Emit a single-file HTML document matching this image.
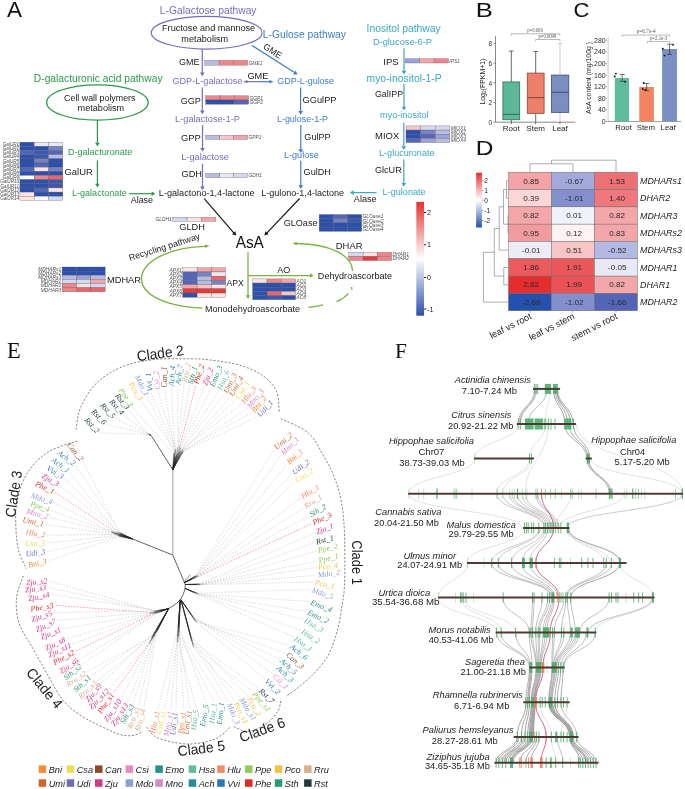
<!DOCTYPE html>
<html><head><meta charset="utf-8"><style>
html,body{margin:0;padding:0;background:#fff;}
svg{display:block;will-change:transform;}

</style></head><body>
<svg width="685" height="789" viewBox="0 0 685 789">
<rect width="685" height="789" fill="#fff"/>
<text x="7.00" y="16.60" font-family="Liberation Sans" font-size="22.5" fill="#111" text-anchor="start">A</text>
<text x="159.85" y="13.50" font-family="Liberation Sans" font-size="10.2" fill="#7a6bbd" textLength="96.67" lengthAdjust="spacingAndGlyphs">L-Galactose pathway</text>
<ellipse cx="206.7" cy="32.7" rx="55.4" ry="16.4" fill="none" stroke="#7a6bbd" stroke-width="1.2"/>
<text x="162.05" y="31.20" font-family="Liberation Sans" font-size="8.9" fill="#1a1a1a" textLength="93.15" lengthAdjust="spacingAndGlyphs">Fructose and mannose</text>
<text x="181.38" y="41.70" font-family="Liberation Sans" font-size="8.9" fill="#1a1a1a" textLength="46.82" lengthAdjust="spacingAndGlyphs">metabolism</text>
<line x1="202.30" y1="49.00" x2="202.30" y2="73.26" stroke="#7a6bbd" stroke-width="1.2"/>
<polygon points="202.30,76.30 200.00,72.50 204.60,72.50" fill="#7a6bbd"/>
<text x="178.95" y="65.20" font-family="Liberation Sans" font-size="8.9" fill="#1a1a1a" textLength="20.43" lengthAdjust="spacingAndGlyphs">GME</text>
<rect x="204.80" y="60.40" width="14.30" height="4.80" fill="#b6bce2" stroke="#555" stroke-width="0.3"/>
<rect x="219.10" y="60.40" width="14.30" height="4.80" fill="#ef8589" stroke="#555" stroke-width="0.3"/>
<rect x="233.40" y="60.40" width="14.30" height="4.80" fill="#ef8589" stroke="#555" stroke-width="0.3"/>
<text x="248.50" y="64.56" font-family="Liberation Sans" font-size="4.9" font-style="italic" fill="#505050" text-anchor="start">GME1</text>
<text x="172.44" y="84.10" font-family="Liberation Sans" font-size="8.9" fill="#7a6bbd" textLength="69.94" lengthAdjust="spacingAndGlyphs">GDP-L-galactose</text>
<line x1="202.30" y1="87.50" x2="202.30" y2="111.26" stroke="#7a6bbd" stroke-width="1.2"/>
<polygon points="202.30,114.30 200.00,110.50 204.60,110.50" fill="#7a6bbd"/>
<text x="180.75" y="103.70" font-family="Liberation Sans" font-size="8.9" fill="#1a1a1a" textLength="20.13" lengthAdjust="spacingAndGlyphs">GGP</text>
<rect x="205.70" y="95.80" width="14.30" height="4.20" fill="#ef8589" stroke="#555" stroke-width="0.3"/>
<rect x="220.00" y="95.80" width="14.30" height="4.20" fill="#ef8589" stroke="#555" stroke-width="0.3"/>
<rect x="234.30" y="95.80" width="14.30" height="4.20" fill="#ef8589" stroke="#555" stroke-width="0.3"/>
<rect x="205.70" y="100.00" width="14.30" height="4.20" fill="#2b50ad" stroke="#555" stroke-width="0.3"/>
<rect x="220.00" y="100.00" width="14.30" height="4.20" fill="#2b50ad" stroke="#555" stroke-width="0.3"/>
<rect x="234.30" y="100.00" width="14.30" height="4.20" fill="#5566b8" stroke="#555" stroke-width="0.3"/>
<text x="249.40" y="99.66" font-family="Liberation Sans" font-size="4.9" font-style="italic" fill="#505050" text-anchor="start">GGP1</text>
<text x="249.40" y="103.86" font-family="Liberation Sans" font-size="4.9" font-style="italic" fill="#505050" text-anchor="start">GGP2</text>
<text x="175.14" y="121.70" font-family="Liberation Sans" font-size="8.9" fill="#7a6bbd" textLength="64.83" lengthAdjust="spacingAndGlyphs">L-galactose-1-P</text>
<line x1="202.50" y1="125.20" x2="202.50" y2="148.76" stroke="#7a6bbd" stroke-width="1.2"/>
<polygon points="202.50,151.80 200.20,148.00 204.80,148.00" fill="#7a6bbd"/>
<text x="181.03" y="141.30" font-family="Liberation Sans" font-size="8.9" fill="#1a1a1a" textLength="19.86" lengthAdjust="spacingAndGlyphs">GPP</text>
<rect x="205.70" y="135.20" width="14.00" height="4.20" fill="#b6bce2" stroke="#555" stroke-width="0.3"/>
<rect x="219.70" y="135.20" width="14.00" height="4.20" fill="#f8c5c7" stroke="#555" stroke-width="0.3"/>
<rect x="233.70" y="135.20" width="14.00" height="4.20" fill="#f4a5a8" stroke="#555" stroke-width="0.3"/>
<text x="248.50" y="139.06" font-family="Liberation Sans" font-size="4.9" font-style="italic" fill="#505050" text-anchor="start">GPP1</text>
<text x="181.24" y="159.70" font-family="Liberation Sans" font-size="8.9" fill="#7a6bbd" textLength="47.65" lengthAdjust="spacingAndGlyphs">L-galactose</text>
<line x1="202.50" y1="163.70" x2="202.50" y2="187.26" stroke="#7a6bbd" stroke-width="1.2"/>
<polygon points="202.50,190.30 200.20,186.50 204.80,186.50" fill="#7a6bbd"/>
<text x="181.54" y="176.70" font-family="Liberation Sans" font-size="8.9" fill="#1a1a1a" textLength="20.52" lengthAdjust="spacingAndGlyphs">GDH</text>
<rect x="205.70" y="173.40" width="14.00" height="4.20" fill="#b6bce2" stroke="#555" stroke-width="0.3"/>
<rect x="219.70" y="173.40" width="14.00" height="4.20" fill="#e8e9f5" stroke="#555" stroke-width="0.3"/>
<rect x="233.70" y="173.40" width="14.00" height="4.20" fill="#d5d8ef" stroke="#555" stroke-width="0.3"/>
<text x="248.50" y="177.26" font-family="Liberation Sans" font-size="4.9" font-style="italic" fill="#505050" text-anchor="start">GDH1</text>
<text x="158.85" y="196.00" font-family="Liberation Sans" font-size="8.9" fill="#1a1a1a" textLength="95.76" lengthAdjust="spacingAndGlyphs">L-galactono-1,4-lactone</text>
<text x="262.85" y="37.50" font-family="Liberation Sans" font-size="10.2" fill="#3c7dc8" textLength="83.18" lengthAdjust="spacingAndGlyphs">L-Gulose pathway</text>
<line x1="251.90" y1="45.40" x2="294.94" y2="72.86" stroke="#3c7dc8" stroke-width="1.2"/>
<polygon points="297.50,74.50 293.06,74.39 295.53,70.52" fill="#3c7dc8"/>
<text transform="translate(271.00,53.40) rotate(33.0)" font-family="Liberation Sans" font-size="8.9" fill="#1a1a1a" text-anchor="middle">GME</text>
<line x1="247.00" y1="81.70" x2="258.50" y2="81.70" stroke="#7a6bbd" stroke-width="1.2"/>
<line x1="258.50" y1="81.70" x2="270.00" y2="81.70" stroke="#3c7dc8" stroke-width="1.2"/>
<polygon points="243.30,81.70 247.50,80.10 247.50,83.30" fill="#7a6bbd"/>
<polygon points="273.60,81.70 269.40,83.30 269.40,80.10" fill="#3c7dc8"/>
<text x="247.44" y="78.70" font-family="Liberation Sans" font-size="8.9" fill="#1a1a1a" textLength="20.95" lengthAdjust="spacingAndGlyphs">GME</text>
<text x="277.25" y="84.00" font-family="Liberation Sans" font-size="8.9" fill="#3c7dc8" textLength="56.84" lengthAdjust="spacingAndGlyphs">GDP-L-gulose</text>
<line x1="300.60" y1="87.40" x2="300.60" y2="111.66" stroke="#3c7dc8" stroke-width="1.2"/>
<polygon points="300.60,114.70 298.30,110.90 302.90,110.90" fill="#3c7dc8"/>
<text x="302.54" y="102.70" font-family="Liberation Sans" font-size="8.9" fill="#1a1a1a" textLength="33.95" lengthAdjust="spacingAndGlyphs">GGulPP</text>
<text x="276.96" y="121.60" font-family="Liberation Sans" font-size="8.9" fill="#3c7dc8" textLength="51.11" lengthAdjust="spacingAndGlyphs">L-gulose-1-P</text>
<line x1="300.80" y1="124.90" x2="300.80" y2="149.96" stroke="#3c7dc8" stroke-width="1.2"/>
<polygon points="300.80,153.00 298.50,149.20 303.10,149.20" fill="#3c7dc8"/>
<text x="304.34" y="140.10" font-family="Liberation Sans" font-size="8.9" fill="#1a1a1a" textLength="26.34" lengthAdjust="spacingAndGlyphs">GulPP</text>
<text x="283.95" y="157.70" font-family="Liberation Sans" font-size="8.9" fill="#3c7dc8" textLength="34.95" lengthAdjust="spacingAndGlyphs">L-gulose</text>
<line x1="300.80" y1="160.80" x2="300.80" y2="185.96" stroke="#3c7dc8" stroke-width="1.2"/>
<polygon points="300.80,189.00 298.50,185.20 303.10,185.20" fill="#3c7dc8"/>
<text x="303.54" y="174.80" font-family="Liberation Sans" font-size="8.9" fill="#1a1a1a" textLength="27.42" lengthAdjust="spacingAndGlyphs">GulDH</text>
<text x="261.15" y="195.50" font-family="Liberation Sans" font-size="8.9" fill="#1a1a1a" textLength="82.94" lengthAdjust="spacingAndGlyphs">L-gulono-1,4-lactone</text>
<text x="366.54" y="32.40" font-family="Liberation Sans" font-size="10.2" fill="#3aa7c2" textLength="74.20" lengthAdjust="spacingAndGlyphs">Inositol pathway</text>
<text x="372.94" y="44.70" font-family="Liberation Sans" font-size="8.9" fill="#3aa7c2" textLength="59.04" lengthAdjust="spacingAndGlyphs">D-glucose-6-P</text>
<line x1="404.00" y1="48.20" x2="404.00" y2="71.56" stroke="#3aa7c2" stroke-width="1.2"/>
<polygon points="404.00,74.60 401.70,70.80 406.30,70.80" fill="#3aa7c2"/>
<text x="383.32" y="64.80" font-family="Liberation Sans" font-size="8.9" fill="#1a1a1a" textLength="15.30" lengthAdjust="spacingAndGlyphs">IPS</text>
<rect x="405.20" y="58.70" width="14.43" height="4.30" fill="#9aa2d6" stroke="#555" stroke-width="0.3"/>
<rect x="419.63" y="58.70" width="14.43" height="4.30" fill="#f4a5a8" stroke="#555" stroke-width="0.3"/>
<rect x="434.07" y="58.70" width="14.43" height="4.30" fill="#ef8589" stroke="#555" stroke-width="0.3"/>
<text x="449.30" y="62.61" font-family="Liberation Sans" font-size="4.9" font-style="italic" fill="#505050" text-anchor="start">IPS1</text>
<text x="366.50" y="81.50" font-family="Liberation Sans" font-size="10.2" fill="#3aa7c2" textLength="75.14" lengthAdjust="spacingAndGlyphs">myo-inositol-1-P</text>
<line x1="404.00" y1="84.10" x2="404.00" y2="107.46" stroke="#3aa7c2" stroke-width="1.2"/>
<polygon points="404.00,110.50 401.70,106.70 406.30,106.70" fill="#3aa7c2"/>
<text x="374.96" y="97.20" font-family="Liberation Sans" font-size="8.9" fill="#1a1a1a" textLength="28.11" lengthAdjust="spacingAndGlyphs">GalIPP</text>
<text x="380.09" y="118.30" font-family="Liberation Sans" font-size="8.9" fill="#3aa7c2" textLength="48.53" lengthAdjust="spacingAndGlyphs">myo-inositol</text>
<line x1="403.80" y1="122.80" x2="403.80" y2="146.96" stroke="#3aa7c2" stroke-width="1.2"/>
<polygon points="403.80,150.00 401.50,146.20 406.10,146.20" fill="#3aa7c2"/>
<text x="375.12" y="138.50" font-family="Liberation Sans" font-size="8.9" fill="#1a1a1a" textLength="24.10" lengthAdjust="spacingAndGlyphs">MIOX</text>
<rect x="406.00" y="125.90" width="14.63" height="4.17" fill="#f8c5c7" stroke="#555" stroke-width="0.3"/>
<rect x="420.63" y="125.90" width="14.63" height="4.17" fill="#d5d8ef" stroke="#555" stroke-width="0.3"/>
<rect x="435.27" y="125.90" width="14.63" height="4.17" fill="#d5d8ef" stroke="#555" stroke-width="0.3"/>
<rect x="406.00" y="130.07" width="14.63" height="4.17" fill="#2b50ad" stroke="#555" stroke-width="0.3"/>
<rect x="420.63" y="130.07" width="14.63" height="4.17" fill="#7682c6" stroke="#555" stroke-width="0.3"/>
<rect x="435.27" y="130.07" width="14.63" height="4.17" fill="#b6bce2" stroke="#555" stroke-width="0.3"/>
<rect x="406.00" y="134.25" width="14.63" height="4.17" fill="#2b50ad" stroke="#555" stroke-width="0.3"/>
<rect x="420.63" y="134.25" width="14.63" height="4.17" fill="#5566b8" stroke="#555" stroke-width="0.3"/>
<rect x="435.27" y="134.25" width="14.63" height="4.17" fill="#9aa2d6" stroke="#555" stroke-width="0.3"/>
<rect x="406.00" y="138.43" width="14.63" height="4.17" fill="#5566b8" stroke="#555" stroke-width="0.3"/>
<rect x="420.63" y="138.43" width="14.63" height="4.17" fill="#9aa2d6" stroke="#555" stroke-width="0.3"/>
<rect x="435.27" y="138.43" width="14.63" height="4.17" fill="#b6bce2" stroke="#555" stroke-width="0.3"/>
<text x="450.70" y="129.75" font-family="Liberation Sans" font-size="4.9" font-style="italic" fill="#505050" text-anchor="start">MIOX1</text>
<text x="450.70" y="133.93" font-family="Liberation Sans" font-size="4.9" font-style="italic" fill="#505050" text-anchor="start">MIOX2</text>
<text x="450.70" y="138.10" font-family="Liberation Sans" font-size="4.9" font-style="italic" fill="#505050" text-anchor="start">MIOX3</text>
<text x="450.70" y="142.28" font-family="Liberation Sans" font-size="4.9" font-style="italic" fill="#505050" text-anchor="start">MIOX4</text>
<text x="379.05" y="156.40" font-family="Liberation Sans" font-size="8.9" fill="#3aa7c2" textLength="55.44" lengthAdjust="spacingAndGlyphs">L-glucuronate</text>
<line x1="403.80" y1="159.60" x2="403.80" y2="183.76" stroke="#3aa7c2" stroke-width="1.2"/>
<polygon points="403.80,186.80 401.50,183.00 406.10,183.00" fill="#3aa7c2"/>
<text x="374.95" y="172.70" font-family="Liberation Sans" font-size="8.9" fill="#1a1a1a" textLength="26.78" lengthAdjust="spacingAndGlyphs">GlcUR</text>
<text x="382.55" y="194.60" font-family="Liberation Sans" font-size="8.9" fill="#3aa7c2" textLength="43.15" lengthAdjust="spacingAndGlyphs">L-gulonate</text>
<line x1="376.50" y1="192.60" x2="352.84" y2="192.60" stroke="#3aa7c2" stroke-width="1.2"/>
<polygon points="349.80,192.60 353.60,190.30 353.60,194.90" fill="#3aa7c2"/>
<text x="353.88" y="201.60" font-family="Liberation Sans" font-size="8.9" fill="#1a1a1a" textLength="22.82" lengthAdjust="spacingAndGlyphs">Alase</text>
<text x="33.85" y="81.80" font-family="Liberation Sans" font-size="10.2" fill="#2a9a48" textLength="128.67" lengthAdjust="spacingAndGlyphs">D-galacturonic acid pathway</text>
<ellipse cx="97.4" cy="102.5" rx="50.8" ry="17.6" fill="none" stroke="#2a9a48" stroke-width="1.2"/>
<text x="64.06" y="100.80" font-family="Liberation Sans" font-size="8.9" fill="#1a1a1a" textLength="71.46" lengthAdjust="spacingAndGlyphs">Cell wall polymers</text>
<text x="77.58" y="111.40" font-family="Liberation Sans" font-size="8.9" fill="#1a1a1a" textLength="46.61" lengthAdjust="spacingAndGlyphs">metabolism</text>
<line x1="97.40" y1="120.30" x2="97.40" y2="143.56" stroke="#2a9a48" stroke-width="1.2"/>
<polygon points="97.40,146.60 95.10,142.80 99.70,142.80" fill="#2a9a48"/>
<text x="67.95" y="154.80" font-family="Liberation Sans" font-size="8.9" fill="#2a9a48" textLength="64.44" lengthAdjust="spacingAndGlyphs">D-galacturonate</text>
<line x1="97.40" y1="160.50" x2="97.40" y2="184.46" stroke="#2a9a48" stroke-width="1.2"/>
<polygon points="97.40,187.50 95.10,183.70 99.70,183.70" fill="#2a9a48"/>
<text x="64.53" y="174.60" font-family="Liberation Sans" font-size="8.9" fill="#1a1a1a" textLength="28.22" lengthAdjust="spacingAndGlyphs">GalUR</text>
<text x="71.95" y="196.00" font-family="Liberation Sans" font-size="8.9" fill="#2a9a48" textLength="54.94" lengthAdjust="spacingAndGlyphs">L-galactonate</text>
<line x1="129.20" y1="193.70" x2="152.36" y2="193.70" stroke="#2a9a48" stroke-width="1.2"/>
<polygon points="155.40,193.70 151.60,196.00 151.60,191.40" fill="#2a9a48"/>
<text x="130.68" y="202.90" font-family="Liberation Sans" font-size="8.9" fill="#1a1a1a" textLength="22.42" lengthAdjust="spacingAndGlyphs">Alase</text>
<rect x="19.90" y="142.20" width="14.30" height="4.16" fill="#2b50ad" stroke="#555" stroke-width="0.3"/>
<rect x="34.20" y="142.20" width="14.30" height="4.16" fill="#e8e9f5" stroke="#555" stroke-width="0.3"/>
<rect x="48.50" y="142.20" width="14.30" height="4.16" fill="#e8e9f5" stroke="#555" stroke-width="0.3"/>
<rect x="19.90" y="146.36" width="14.30" height="4.16" fill="#2b50ad" stroke="#555" stroke-width="0.3"/>
<rect x="34.20" y="146.36" width="14.30" height="4.16" fill="#2b50ad" stroke="#555" stroke-width="0.3"/>
<rect x="48.50" y="146.36" width="14.30" height="4.16" fill="#7682c6" stroke="#555" stroke-width="0.3"/>
<rect x="19.90" y="150.51" width="14.30" height="4.16" fill="#5566b8" stroke="#555" stroke-width="0.3"/>
<rect x="34.20" y="150.51" width="14.30" height="4.16" fill="#3d58b2" stroke="#555" stroke-width="0.3"/>
<rect x="48.50" y="150.51" width="14.30" height="4.16" fill="#5566b8" stroke="#555" stroke-width="0.3"/>
<rect x="19.90" y="154.67" width="14.30" height="4.16" fill="#2b50ad" stroke="#555" stroke-width="0.3"/>
<rect x="34.20" y="154.67" width="14.30" height="4.16" fill="#3d58b2" stroke="#555" stroke-width="0.3"/>
<rect x="48.50" y="154.67" width="14.30" height="4.16" fill="#b6bce2" stroke="#555" stroke-width="0.3"/>
<rect x="19.90" y="158.83" width="14.30" height="4.16" fill="#2b50ad" stroke="#555" stroke-width="0.3"/>
<rect x="34.20" y="158.83" width="14.30" height="4.16" fill="#7682c6" stroke="#555" stroke-width="0.3"/>
<rect x="48.50" y="158.83" width="14.30" height="4.16" fill="#2b50ad" stroke="#555" stroke-width="0.3"/>
<rect x="19.90" y="162.99" width="14.30" height="4.16" fill="#2b50ad" stroke="#555" stroke-width="0.3"/>
<rect x="34.20" y="162.99" width="14.30" height="4.16" fill="#5566b8" stroke="#555" stroke-width="0.3"/>
<rect x="48.50" y="162.99" width="14.30" height="4.16" fill="#2b50ad" stroke="#555" stroke-width="0.3"/>
<rect x="19.90" y="167.14" width="14.30" height="4.16" fill="#5566b8" stroke="#555" stroke-width="0.3"/>
<rect x="34.20" y="167.14" width="14.30" height="4.16" fill="#fde3e3" stroke="#555" stroke-width="0.3"/>
<rect x="48.50" y="167.14" width="14.30" height="4.16" fill="#7682c6" stroke="#555" stroke-width="0.3"/>
<rect x="19.90" y="171.30" width="14.30" height="4.16" fill="#2b50ad" stroke="#555" stroke-width="0.3"/>
<rect x="34.20" y="171.30" width="14.30" height="4.16" fill="#2b50ad" stroke="#555" stroke-width="0.3"/>
<rect x="48.50" y="171.30" width="14.30" height="4.16" fill="#2b50ad" stroke="#555" stroke-width="0.3"/>
<rect x="19.90" y="175.46" width="14.30" height="4.16" fill="#fbfbfd" stroke="#555" stroke-width="0.3"/>
<rect x="34.20" y="175.46" width="14.30" height="4.16" fill="#ef8589" stroke="#555" stroke-width="0.3"/>
<rect x="48.50" y="175.46" width="14.30" height="4.16" fill="#ec6469" stroke="#555" stroke-width="0.3"/>
<rect x="19.90" y="179.61" width="14.30" height="4.16" fill="#2b50ad" stroke="#555" stroke-width="0.3"/>
<rect x="34.20" y="179.61" width="14.30" height="4.16" fill="#2b50ad" stroke="#555" stroke-width="0.3"/>
<rect x="48.50" y="179.61" width="14.30" height="4.16" fill="#3d58b2" stroke="#555" stroke-width="0.3"/>
<rect x="19.90" y="183.77" width="14.30" height="4.16" fill="#2b50ad" stroke="#555" stroke-width="0.3"/>
<rect x="34.20" y="183.77" width="14.30" height="4.16" fill="#2b50ad" stroke="#555" stroke-width="0.3"/>
<rect x="48.50" y="183.77" width="14.30" height="4.16" fill="#3d58b2" stroke="#555" stroke-width="0.3"/>
<rect x="19.90" y="187.93" width="14.30" height="4.16" fill="#2b50ad" stroke="#555" stroke-width="0.3"/>
<rect x="34.20" y="187.93" width="14.30" height="4.16" fill="#5566b8" stroke="#555" stroke-width="0.3"/>
<rect x="48.50" y="187.93" width="14.30" height="4.16" fill="#fde3e3" stroke="#555" stroke-width="0.3"/>
<rect x="19.90" y="192.09" width="14.30" height="4.16" fill="#fde3e3" stroke="#555" stroke-width="0.3"/>
<rect x="34.20" y="192.09" width="14.30" height="4.16" fill="#2b50ad" stroke="#555" stroke-width="0.3"/>
<rect x="48.50" y="192.09" width="14.30" height="4.16" fill="#2b50ad" stroke="#555" stroke-width="0.3"/>
<rect x="19.90" y="196.24" width="14.30" height="4.16" fill="#fde3e3" stroke="#555" stroke-width="0.3"/>
<rect x="34.20" y="196.24" width="14.30" height="4.16" fill="#fbfbfd" stroke="#555" stroke-width="0.3"/>
<rect x="48.50" y="196.24" width="14.30" height="4.16" fill="#d5d8ef" stroke="#555" stroke-width="0.3"/>
<text x="19.10" y="145.93" font-family="Liberation Sans" font-size="4.6" font-style="italic" fill="#505050" text-anchor="end">GalUR1</text>
<text x="19.10" y="150.09" font-family="Liberation Sans" font-size="4.6" font-style="italic" fill="#505050" text-anchor="end">GalUR2</text>
<text x="19.10" y="154.25" font-family="Liberation Sans" font-size="4.6" font-style="italic" fill="#505050" text-anchor="end">GalUR3</text>
<text x="19.10" y="158.41" font-family="Liberation Sans" font-size="4.6" font-style="italic" fill="#505050" text-anchor="end">GalUR4</text>
<text x="19.10" y="162.56" font-family="Liberation Sans" font-size="4.6" font-style="italic" fill="#505050" text-anchor="end">GalUR5</text>
<text x="19.10" y="166.72" font-family="Liberation Sans" font-size="4.6" font-style="italic" fill="#505050" text-anchor="end">GalUR6</text>
<text x="19.10" y="170.88" font-family="Liberation Sans" font-size="4.6" font-style="italic" fill="#505050" text-anchor="end">GalUR7</text>
<text x="19.10" y="175.03" font-family="Liberation Sans" font-size="4.6" font-style="italic" fill="#505050" text-anchor="end">GalUR8</text>
<text x="19.10" y="179.19" font-family="Liberation Sans" font-size="4.6" font-style="italic" fill="#505050" text-anchor="end">GalUR9</text>
<text x="19.10" y="183.35" font-family="Liberation Sans" font-size="4.6" font-style="italic" fill="#505050" text-anchor="end">GalUR10</text>
<text x="19.10" y="187.51" font-family="Liberation Sans" font-size="4.6" font-style="italic" fill="#505050" text-anchor="end">GalUR11</text>
<text x="19.10" y="191.66" font-family="Liberation Sans" font-size="4.6" font-style="italic" fill="#505050" text-anchor="end">GalUR12</text>
<text x="19.10" y="195.82" font-family="Liberation Sans" font-size="4.6" font-style="italic" fill="#505050" text-anchor="end">GalUR13</text>
<text x="19.10" y="199.98" font-family="Liberation Sans" font-size="4.6" font-style="italic" fill="#505050" text-anchor="end">GalUR14</text>
<line x1="204.20" y1="198.60" x2="234.21" y2="233.30" stroke="#1a1a1a" stroke-width="1.2"/>
<polygon points="236.20,235.60 231.97,234.23 235.45,231.22" fill="#1a1a1a"/>
<line x1="299.60" y1="198.50" x2="266.50" y2="233.30" stroke="#1a1a1a" stroke-width="1.2"/>
<polygon points="264.40,235.50 265.35,231.16 268.69,234.33" fill="#1a1a1a"/>
<rect x="172.60" y="217.20" width="14.43" height="4.20" fill="#d5d8ef" stroke="#555" stroke-width="0.3"/>
<rect x="187.03" y="217.20" width="14.43" height="4.20" fill="#fde3e3" stroke="#555" stroke-width="0.3"/>
<rect x="201.47" y="217.20" width="14.43" height="4.20" fill="#f4a5a8" stroke="#555" stroke-width="0.3"/>
<text x="171.80" y="221.06" font-family="Liberation Sans" font-size="4.9" font-style="italic" fill="#505050" text-anchor="end">GLDH1</text>
<text x="179.24" y="229.90" font-family="Liberation Sans" font-size="8.9" fill="#1a1a1a" textLength="25.74" lengthAdjust="spacingAndGlyphs">GLDH</text>
<text x="283.65" y="225.60" font-family="Liberation Sans" font-size="8.9" fill="#1a1a1a" textLength="33.86" lengthAdjust="spacingAndGlyphs">GLOase</text>
<rect x="319.20" y="214.50" width="14.17" height="4.20" fill="#2b50ad" stroke="#555" stroke-width="0.3"/>
<rect x="333.37" y="214.50" width="14.17" height="4.20" fill="#5566b8" stroke="#555" stroke-width="0.3"/>
<rect x="347.53" y="214.50" width="14.17" height="4.20" fill="#2b50ad" stroke="#555" stroke-width="0.3"/>
<rect x="319.20" y="218.70" width="14.17" height="4.20" fill="#2b50ad" stroke="#555" stroke-width="0.3"/>
<rect x="333.37" y="218.70" width="14.17" height="4.20" fill="#7682c6" stroke="#555" stroke-width="0.3"/>
<rect x="347.53" y="218.70" width="14.17" height="4.20" fill="#3d58b2" stroke="#555" stroke-width="0.3"/>
<rect x="319.20" y="222.90" width="14.17" height="4.20" fill="#2b50ad" stroke="#555" stroke-width="0.3"/>
<rect x="333.37" y="222.90" width="14.17" height="4.20" fill="#2b50ad" stroke="#555" stroke-width="0.3"/>
<rect x="347.53" y="222.90" width="14.17" height="4.20" fill="#2b50ad" stroke="#555" stroke-width="0.3"/>
<rect x="319.20" y="227.10" width="14.17" height="4.20" fill="#2b50ad" stroke="#555" stroke-width="0.3"/>
<rect x="333.37" y="227.10" width="14.17" height="4.20" fill="#2b50ad" stroke="#555" stroke-width="0.3"/>
<rect x="347.53" y="227.10" width="14.17" height="4.20" fill="#2b50ad" stroke="#555" stroke-width="0.3"/>
<text x="362.50" y="218.36" font-family="Liberation Sans" font-size="4.9" font-style="italic" fill="#505050" text-anchor="start">GLOase1</text>
<text x="362.50" y="222.56" font-family="Liberation Sans" font-size="4.9" font-style="italic" fill="#505050" text-anchor="start">GLOase2</text>
<text x="362.50" y="226.76" font-family="Liberation Sans" font-size="4.9" font-style="italic" fill="#505050" text-anchor="start">GLOase3</text>
<text x="362.50" y="230.96" font-family="Liberation Sans" font-size="4.9" font-style="italic" fill="#505050" text-anchor="start">GLOase4</text>
<text x="235.66" y="247.70" font-family="Liberation Sans" font-size="16.0" fill="#111" textLength="28.16" lengthAdjust="spacingAndGlyphs">AsA</text>
<line x1="248.00" y1="252.30" x2="248.00" y2="295.96" stroke="#7ab342" stroke-width="1.3"/>
<polygon points="248.00,299.00 245.70,295.20 250.30,295.20" fill="#7ab342"/>
<line x1="248.00" y1="275.60" x2="310.56" y2="275.60" stroke="#7ab342" stroke-width="1.3"/>
<polygon points="313.60,275.60 309.80,277.90 309.80,273.30" fill="#7ab342"/>
<text x="277.28" y="272.70" font-family="Liberation Sans" font-size="8.9" fill="#1a1a1a" textLength="13.05" lengthAdjust="spacingAndGlyphs">AO</text>
<rect x="252.70" y="278.90" width="14.30" height="4.16" fill="#fde3e3" stroke="#555" stroke-width="0.3"/>
<rect x="267.00" y="278.90" width="14.30" height="4.16" fill="#ef8589" stroke="#555" stroke-width="0.3"/>
<rect x="281.30" y="278.90" width="14.30" height="4.16" fill="#f4a5a8" stroke="#555" stroke-width="0.3"/>
<rect x="252.70" y="283.06" width="14.30" height="4.16" fill="#2b50ad" stroke="#555" stroke-width="0.3"/>
<rect x="267.00" y="283.06" width="14.30" height="4.16" fill="#2b50ad" stroke="#555" stroke-width="0.3"/>
<rect x="281.30" y="283.06" width="14.30" height="4.16" fill="#2b50ad" stroke="#555" stroke-width="0.3"/>
<rect x="252.70" y="287.22" width="14.30" height="4.16" fill="#2b50ad" stroke="#555" stroke-width="0.3"/>
<rect x="267.00" y="287.22" width="14.30" height="4.16" fill="#2b50ad" stroke="#555" stroke-width="0.3"/>
<rect x="281.30" y="287.22" width="14.30" height="4.16" fill="#2b50ad" stroke="#555" stroke-width="0.3"/>
<rect x="252.70" y="291.38" width="14.30" height="4.16" fill="#2b50ad" stroke="#555" stroke-width="0.3"/>
<rect x="267.00" y="291.38" width="14.30" height="4.16" fill="#ec6469" stroke="#555" stroke-width="0.3"/>
<rect x="281.30" y="291.38" width="14.30" height="4.16" fill="#f8c5c7" stroke="#555" stroke-width="0.3"/>
<rect x="252.70" y="295.54" width="14.30" height="4.16" fill="#2b50ad" stroke="#555" stroke-width="0.3"/>
<rect x="267.00" y="295.54" width="14.30" height="4.16" fill="#3d58b2" stroke="#555" stroke-width="0.3"/>
<rect x="281.30" y="295.54" width="14.30" height="4.16" fill="#2b50ad" stroke="#555" stroke-width="0.3"/>
<text x="296.40" y="282.74" font-family="Liberation Sans" font-size="4.9" font-style="italic" fill="#505050" text-anchor="start">AO1</text>
<text x="296.40" y="286.90" font-family="Liberation Sans" font-size="4.9" font-style="italic" fill="#505050" text-anchor="start">AO2</text>
<text x="296.40" y="291.06" font-family="Liberation Sans" font-size="4.9" font-style="italic" fill="#505050" text-anchor="start">AO3</text>
<text x="296.40" y="295.22" font-family="Liberation Sans" font-size="4.9" font-style="italic" fill="#505050" text-anchor="start">AO4</text>
<text x="296.40" y="299.38" font-family="Liberation Sans" font-size="4.9" font-style="italic" fill="#505050" text-anchor="start">AO5</text>
<text x="317.85" y="279.30" font-family="Liberation Sans" font-size="8.9" fill="#1a1a1a" textLength="74.25" lengthAdjust="spacingAndGlyphs">Dehydroascorbate</text>
<text x="335.82" y="248.90" font-family="Liberation Sans" font-size="8.9" fill="#1a1a1a" textLength="26.71" lengthAdjust="spacingAndGlyphs">DHAR</text>
<rect x="348.80" y="252.30" width="14.30" height="4.10" fill="#d5d8ef" stroke="#555" stroke-width="0.3"/>
<rect x="363.10" y="252.30" width="14.30" height="4.10" fill="#fde3e3" stroke="#555" stroke-width="0.3"/>
<rect x="377.40" y="252.30" width="14.30" height="4.10" fill="#ef8589" stroke="#555" stroke-width="0.3"/>
<rect x="348.80" y="256.40" width="14.30" height="4.10" fill="#ef8589" stroke="#555" stroke-width="0.3"/>
<rect x="363.10" y="256.40" width="14.30" height="4.10" fill="#e8393d" stroke="#555" stroke-width="0.3"/>
<rect x="377.40" y="256.40" width="14.30" height="4.10" fill="#ef8589" stroke="#555" stroke-width="0.3"/>
<text x="392.50" y="256.11" font-family="Liberation Sans" font-size="4.9" font-style="italic" fill="#505050" text-anchor="start">DHAR1</text>
<text x="392.50" y="260.21" font-family="Liberation Sans" font-size="4.9" font-style="italic" fill="#505050" text-anchor="start">DHAR2</text>
<path d="M352.6,271 C352,255 330,244 297,243.5" fill="none" stroke="#7ab342" stroke-width="1.3"/>
<polygon points="292.40,243.50 296.90,241.80 296.90,245.20" fill="#7ab342"/>
<text x="204.95" y="312.40" font-family="Liberation Sans" font-size="8.9" fill="#1a1a1a" textLength="95.15" lengthAdjust="spacingAndGlyphs">Monodehydroascorbate</text>
<path d="M351.6,287.0 L351.9,289.8" fill="none" stroke="#7ab342" stroke-width="1.3"/>
<path d="M348.6,293.4 Q344,298.5 336.6,301.6" fill="none" stroke="#7ab342" stroke-width="1.3"/>
<path d="M323.0,304.9 Q316,306.6 308.3,307.4" fill="none" stroke="#7ab342" stroke-width="1.3"/>
<path d="M202.5,308.2 C160,306 138,292 142,275 C146,258 175,247 205,246.3" fill="none" stroke="#7ab342" stroke-width="1.3"/>
<polygon points="209.50,246.10 205.06,247.96 204.94,244.56" fill="#7ab342"/>
<text transform="translate(130.00,261.00) rotate(-17.5)" font-family="Liberation Sans" font-size="8.9" fill="#1a1a1a" text-anchor="start">Recycling pathway</text>
<text x="107.04" y="283.00" font-family="Liberation Sans" font-size="8.9" fill="#1a1a1a" textLength="33.89" lengthAdjust="spacingAndGlyphs">MDHAR</text>
<rect x="62.10" y="267.00" width="14.37" height="4.13" fill="#2b50ad" stroke="#555" stroke-width="0.3"/>
<rect x="76.47" y="267.00" width="14.37" height="4.13" fill="#2b50ad" stroke="#555" stroke-width="0.3"/>
<rect x="90.83" y="267.00" width="14.37" height="4.13" fill="#2b50ad" stroke="#555" stroke-width="0.3"/>
<rect x="62.10" y="271.13" width="14.37" height="4.13" fill="#2b50ad" stroke="#555" stroke-width="0.3"/>
<rect x="76.47" y="271.13" width="14.37" height="4.13" fill="#2b50ad" stroke="#555" stroke-width="0.3"/>
<rect x="90.83" y="271.13" width="14.37" height="4.13" fill="#2b50ad" stroke="#555" stroke-width="0.3"/>
<rect x="62.10" y="275.27" width="14.37" height="4.13" fill="#b6bce2" stroke="#555" stroke-width="0.3"/>
<rect x="76.47" y="275.27" width="14.37" height="4.13" fill="#9aa2d6" stroke="#555" stroke-width="0.3"/>
<rect x="90.83" y="275.27" width="14.37" height="4.13" fill="#b6bce2" stroke="#555" stroke-width="0.3"/>
<rect x="62.10" y="279.40" width="14.37" height="4.13" fill="#d5d8ef" stroke="#555" stroke-width="0.3"/>
<rect x="76.47" y="279.40" width="14.37" height="4.13" fill="#d5d8ef" stroke="#555" stroke-width="0.3"/>
<rect x="90.83" y="279.40" width="14.37" height="4.13" fill="#f4a5a8" stroke="#555" stroke-width="0.3"/>
<rect x="62.10" y="283.53" width="14.37" height="4.13" fill="#ef8589" stroke="#555" stroke-width="0.3"/>
<rect x="76.47" y="283.53" width="14.37" height="4.13" fill="#fde3e3" stroke="#555" stroke-width="0.3"/>
<rect x="90.83" y="283.53" width="14.37" height="4.13" fill="#d5d8ef" stroke="#555" stroke-width="0.3"/>
<rect x="62.10" y="287.67" width="14.37" height="4.13" fill="#ef8589" stroke="#555" stroke-width="0.3"/>
<rect x="76.47" y="287.67" width="14.37" height="4.13" fill="#ec6469" stroke="#555" stroke-width="0.3"/>
<rect x="90.83" y="287.67" width="14.37" height="4.13" fill="#ec6469" stroke="#555" stroke-width="0.3"/>
<text x="61.30" y="270.83" font-family="Liberation Sans" font-size="4.9" font-style="italic" fill="#505050" text-anchor="end">MDHARs1</text>
<text x="61.30" y="274.96" font-family="Liberation Sans" font-size="4.9" font-style="italic" fill="#505050" text-anchor="end">MDHARs2</text>
<text x="61.30" y="279.10" font-family="Liberation Sans" font-size="4.9" font-style="italic" fill="#505050" text-anchor="end">MDHARs3</text>
<text x="61.30" y="283.23" font-family="Liberation Sans" font-size="4.9" font-style="italic" fill="#505050" text-anchor="end">MDHAR1</text>
<text x="61.30" y="287.36" font-family="Liberation Sans" font-size="4.9" font-style="italic" fill="#505050" text-anchor="end">MDHAR2</text>
<text x="61.30" y="291.50" font-family="Liberation Sans" font-size="4.9" font-style="italic" fill="#505050" text-anchor="end">MDHAR3</text>
<rect x="182.80" y="267.70" width="14.30" height="4.23" fill="#fde3e3" stroke="#555" stroke-width="0.3"/>
<rect x="197.10" y="267.70" width="14.30" height="4.23" fill="#f4a5a8" stroke="#555" stroke-width="0.3"/>
<rect x="211.40" y="267.70" width="14.30" height="4.23" fill="#f4a5a8" stroke="#555" stroke-width="0.3"/>
<rect x="182.80" y="271.93" width="14.30" height="4.23" fill="#5566b8" stroke="#555" stroke-width="0.3"/>
<rect x="197.10" y="271.93" width="14.30" height="4.23" fill="#7682c6" stroke="#555" stroke-width="0.3"/>
<rect x="211.40" y="271.93" width="14.30" height="4.23" fill="#e8e9f5" stroke="#555" stroke-width="0.3"/>
<rect x="182.80" y="276.16" width="14.30" height="4.23" fill="#5566b8" stroke="#555" stroke-width="0.3"/>
<rect x="197.10" y="276.16" width="14.30" height="4.23" fill="#b6bce2" stroke="#555" stroke-width="0.3"/>
<rect x="211.40" y="276.16" width="14.30" height="4.23" fill="#ec6469" stroke="#555" stroke-width="0.3"/>
<rect x="182.80" y="280.39" width="14.30" height="4.23" fill="#5566b8" stroke="#555" stroke-width="0.3"/>
<rect x="197.10" y="280.39" width="14.30" height="4.23" fill="#b6bce2" stroke="#555" stroke-width="0.3"/>
<rect x="211.40" y="280.39" width="14.30" height="4.23" fill="#7682c6" stroke="#555" stroke-width="0.3"/>
<rect x="182.80" y="284.61" width="14.30" height="4.23" fill="#f4a5a8" stroke="#555" stroke-width="0.3"/>
<rect x="197.10" y="284.61" width="14.30" height="4.23" fill="#f8c5c7" stroke="#555" stroke-width="0.3"/>
<rect x="211.40" y="284.61" width="14.30" height="4.23" fill="#fde3e3" stroke="#555" stroke-width="0.3"/>
<rect x="182.80" y="288.84" width="14.30" height="4.23" fill="#e8393d" stroke="#555" stroke-width="0.3"/>
<rect x="197.10" y="288.84" width="14.30" height="4.23" fill="#e8393d" stroke="#555" stroke-width="0.3"/>
<rect x="211.40" y="288.84" width="14.30" height="4.23" fill="#e8393d" stroke="#555" stroke-width="0.3"/>
<rect x="182.80" y="293.07" width="14.30" height="4.23" fill="#2b50ad" stroke="#555" stroke-width="0.3"/>
<rect x="197.10" y="293.07" width="14.30" height="4.23" fill="#fde3e3" stroke="#555" stroke-width="0.3"/>
<rect x="211.40" y="293.07" width="14.30" height="4.23" fill="#fde3e3" stroke="#555" stroke-width="0.3"/>
<text x="182.00" y="271.58" font-family="Liberation Sans" font-size="4.9" font-style="italic" fill="#505050" text-anchor="end">APX1</text>
<text x="182.00" y="275.81" font-family="Liberation Sans" font-size="4.9" font-style="italic" fill="#505050" text-anchor="end">APX2</text>
<text x="182.00" y="280.04" font-family="Liberation Sans" font-size="4.9" font-style="italic" fill="#505050" text-anchor="end">APX3</text>
<text x="182.00" y="284.26" font-family="Liberation Sans" font-size="4.9" font-style="italic" fill="#505050" text-anchor="end">APX4</text>
<text x="182.00" y="288.49" font-family="Liberation Sans" font-size="4.9" font-style="italic" fill="#505050" text-anchor="end">APX5</text>
<text x="182.00" y="292.72" font-family="Liberation Sans" font-size="4.9" font-style="italic" fill="#505050" text-anchor="end">APX6</text>
<text x="182.00" y="296.95" font-family="Liberation Sans" font-size="4.9" font-style="italic" fill="#505050" text-anchor="end">APX7</text>
<text x="226.38" y="286.00" font-family="Liberation Sans" font-size="8.9" fill="#1a1a1a" textLength="17.30" lengthAdjust="spacingAndGlyphs">APX</text>
<defs><linearGradient id="cbA" x1="0" y1="0" x2="0" y2="1"><stop offset="0" stop-color="#e8302f"/><stop offset="0.5" stop-color="#ffffff"/><stop offset="1" stop-color="#2a50ad"/></linearGradient></defs>
<rect x="416.3" y="201.9" width="7.7" height="113.8" fill="url(#cbA)"/>
<line x1="424.00" y1="212.50" x2="426.20" y2="212.50" stroke="#222" stroke-width="1.0"/>
<text x="427.00" y="215.10" font-family="Liberation Sans" font-size="7.2" fill="#222" text-anchor="start">2</text>
<line x1="424.00" y1="244.80" x2="426.20" y2="244.80" stroke="#222" stroke-width="1.0"/>
<text x="427.00" y="247.40" font-family="Liberation Sans" font-size="7.2" fill="#222" text-anchor="start">1</text>
<line x1="424.00" y1="277.50" x2="426.20" y2="277.50" stroke="#222" stroke-width="1.0"/>
<text x="427.00" y="280.10" font-family="Liberation Sans" font-size="7.2" fill="#222" text-anchor="start">0</text>
<line x1="424.00" y1="309.00" x2="426.20" y2="309.00" stroke="#222" stroke-width="1.0"/>
<text x="427.00" y="311.60" font-family="Liberation Sans" font-size="7.2" fill="#222" text-anchor="start">-1</text>
<text x="475.69" y="17.00" font-family="Liberation Sans" font-size="21.0" fill="#111" textLength="17.03" lengthAdjust="spacingAndGlyphs">B</text>
<line x1="495.50" y1="36.20" x2="495.50" y2="122.20" stroke="#6a6a6a" stroke-width="0.8"/>
<line x1="495.50" y1="122.20" x2="575.40" y2="122.20" stroke="#6a6a6a" stroke-width="0.8"/>
<line x1="493.30" y1="122.20" x2="495.50" y2="122.20" stroke="#555" stroke-width="0.6"/>
<text x="488.55" y="124.80" font-family="Liberation Sans" font-size="7.6" fill="#2a2a2a" textLength="3.49" lengthAdjust="spacingAndGlyphs">0</text>
<line x1="493.30" y1="102.56" x2="495.50" y2="102.56" stroke="#555" stroke-width="0.6"/>
<text x="488.47" y="105.16" font-family="Liberation Sans" font-size="7.6" fill="#2a2a2a" textLength="3.67" lengthAdjust="spacingAndGlyphs">2</text>
<line x1="493.30" y1="82.92" x2="495.50" y2="82.92" stroke="#555" stroke-width="0.6"/>
<text x="488.67" y="85.52" font-family="Liberation Sans" font-size="7.6" fill="#2a2a2a" textLength="3.30" lengthAdjust="spacingAndGlyphs">4</text>
<line x1="493.30" y1="63.28" x2="495.50" y2="63.28" stroke="#555" stroke-width="0.6"/>
<text x="488.48" y="65.88" font-family="Liberation Sans" font-size="7.6" fill="#2a2a2a" textLength="3.61" lengthAdjust="spacingAndGlyphs">6</text>
<line x1="493.30" y1="43.64" x2="495.50" y2="43.64" stroke="#555" stroke-width="0.6"/>
<text x="488.53" y="46.24" font-family="Liberation Sans" font-size="7.6" fill="#2a2a2a" textLength="3.55" lengthAdjust="spacingAndGlyphs">8</text>
<text transform="translate(484.9,104.6) rotate(-90)" font-family="Liberation Sans" font-size="7.6" fill="#222" textLength="46" lengthAdjust="spacingAndGlyphs">Log<tspan font-size="5.2" dy="1.5">2</tspan><tspan dy="-1.5">(FPKM+1)</tspan></text>
<line x1="511.30" y1="51.00" x2="511.30" y2="81.94" stroke="#444" stroke-width="0.8"/>
<line x1="511.30" y1="119.75" x2="511.30" y2="122.20" stroke="#444" stroke-width="0.8"/>
<line x1="509.00" y1="51.00" x2="513.60" y2="51.00" stroke="#444" stroke-width="0.8"/>
<rect x="502.9" y="81.94" width="16.80" height="37.81" fill="#5db89a" stroke="#2f6e58" stroke-width="0.8"/>
<line x1="502.90" y1="114.34" x2="519.70" y2="114.34" stroke="#2f6e58" stroke-width="1.0"/>
<line x1="535.70" y1="51.50" x2="535.70" y2="73.10" stroke="#444" stroke-width="0.8"/>
<line x1="535.70" y1="113.36" x2="535.70" y2="122.20" stroke="#444" stroke-width="0.8"/>
<line x1="533.40" y1="51.50" x2="538.00" y2="51.50" stroke="#444" stroke-width="0.8"/>
<rect x="527.3" y="73.10" width="16.80" height="40.26" fill="#ec806a" stroke="#8a4434" stroke-width="0.8"/>
<line x1="527.30" y1="97.65" x2="544.10" y2="97.65" stroke="#8a4434" stroke-width="1.0"/>
<line x1="560.00" y1="43.64" x2="560.00" y2="75.06" stroke="#bbb" stroke-width="0.8"/>
<line x1="560.00" y1="112.38" x2="560.00" y2="122.20" stroke="#bbb" stroke-width="0.8"/>
<line x1="557.70" y1="43.64" x2="562.30" y2="43.64" stroke="#bbb" stroke-width="0.8"/>
<rect x="551.5" y="75.06" width="17.30" height="37.32" fill="#7a8fbf" stroke="#3d4d70" stroke-width="0.8"/>
<line x1="551.50" y1="92.25" x2="568.80" y2="92.25" stroke="#3d4d70" stroke-width="1.0"/>
<path d="M511.3,35.6 V33.8 H559.9 V35.6" fill="none" stroke="#888" stroke-width="0.6"/>
<text x="527.23" y="31.80" font-family="Liberation Serif" font-size="5.2" fill="#555" textLength="15.61" lengthAdjust="spacingAndGlyphs">p=0.006</text>
<path d="M535.7,41.3 V39.5 H559.9 V41.3" fill="none" stroke="#888" stroke-width="0.6"/>
<text x="538.53" y="38.30" font-family="Liberation Serif" font-size="5.2" fill="#555" textLength="17.65" lengthAdjust="spacingAndGlyphs">p=0.0099</text>
<line x1="511.30" y1="122.20" x2="511.30" y2="124.20" stroke="#333" stroke-width="0.7"/>
<text x="511.30" y="131.00" font-family="Liberation Sans" font-size="8.0" fill="#222" text-anchor="middle">Root</text>
<line x1="535.70" y1="122.20" x2="535.70" y2="124.20" stroke="#333" stroke-width="0.7"/>
<text x="535.70" y="131.00" font-family="Liberation Sans" font-size="8.0" fill="#222" text-anchor="middle">Stem</text>
<line x1="560.00" y1="122.20" x2="560.00" y2="124.20" stroke="#333" stroke-width="0.7"/>
<text x="560.00" y="131.00" font-family="Liberation Sans" font-size="8.0" fill="#222" text-anchor="middle">Leaf</text>
<text x="573.50" y="16.90" font-family="Liberation Sans" font-size="21.0" fill="#111" textLength="15.92" lengthAdjust="spacingAndGlyphs">C</text>
<line x1="608.10" y1="36.80" x2="608.10" y2="121.50" stroke="#c4c4c4" stroke-width="0.9"/>
<line x1="607.30" y1="121.50" x2="681.20" y2="121.50" stroke="#7a7a7a" stroke-width="0.7"/>
<line x1="605.70" y1="121.50" x2="606.90" y2="121.50" stroke="#555" stroke-width="0.6"/>
<text x="605.60" y="124.00" font-family="Liberation Sans" font-size="6.9" fill="#2a2a2a" text-anchor="end">0</text>
<line x1="605.70" y1="109.90" x2="606.90" y2="109.90" stroke="#555" stroke-width="0.6"/>
<text x="605.60" y="112.40" font-family="Liberation Sans" font-size="6.9" fill="#2a2a2a" text-anchor="end">40</text>
<line x1="605.70" y1="98.30" x2="606.90" y2="98.30" stroke="#555" stroke-width="0.6"/>
<text x="605.60" y="100.80" font-family="Liberation Sans" font-size="6.9" fill="#2a2a2a" text-anchor="end">80</text>
<line x1="605.70" y1="86.70" x2="606.90" y2="86.70" stroke="#555" stroke-width="0.6"/>
<text x="605.60" y="89.20" font-family="Liberation Sans" font-size="6.9" fill="#2a2a2a" text-anchor="end">120</text>
<line x1="605.70" y1="75.10" x2="606.90" y2="75.10" stroke="#555" stroke-width="0.6"/>
<text x="605.60" y="77.60" font-family="Liberation Sans" font-size="6.9" fill="#2a2a2a" text-anchor="end">160</text>
<line x1="605.70" y1="63.50" x2="606.90" y2="63.50" stroke="#555" stroke-width="0.6"/>
<text x="605.60" y="66.00" font-family="Liberation Sans" font-size="6.9" fill="#2a2a2a" text-anchor="end">200</text>
<line x1="605.70" y1="51.90" x2="606.90" y2="51.90" stroke="#555" stroke-width="0.6"/>
<text x="605.60" y="54.40" font-family="Liberation Sans" font-size="6.9" fill="#2a2a2a" text-anchor="end">240</text>
<line x1="605.70" y1="40.30" x2="606.90" y2="40.30" stroke="#555" stroke-width="0.6"/>
<text x="605.60" y="42.80" font-family="Liberation Sans" font-size="6.9" fill="#2a2a2a" text-anchor="end">280</text>
<text transform="translate(591.2,114.0) rotate(-90)" font-family="Liberation Sans" font-size="7.4" fill="#222" textLength="72" lengthAdjust="spacingAndGlyphs">AsA content (mg/100g )</text>
<rect x="614.8" y="78.00" width="14.20" height="43.50" fill="#5ebd9d"/>
<line x1="622.20" y1="74.40" x2="622.20" y2="81.30" stroke="#333" stroke-width="0.7"/>
<line x1="619.70" y1="74.40" x2="624.70" y2="74.40" stroke="#333" stroke-width="0.7"/>
<line x1="619.70" y1="81.30" x2="624.70" y2="81.30" stroke="#333" stroke-width="0.7"/>
<circle cx="615.9" cy="73.6" r="0.95" fill="#111"/>
<circle cx="614.8" cy="76.5" r="0.95" fill="#111"/>
<circle cx="625.1" cy="81.8" r="0.95" fill="#111"/>
<rect x="639.3" y="86.99" width="14.60" height="34.51" fill="#f2845f"/>
<line x1="646.70" y1="83.50" x2="646.70" y2="90.70" stroke="#333" stroke-width="0.7"/>
<line x1="644.20" y1="83.50" x2="649.20" y2="83.50" stroke="#333" stroke-width="0.7"/>
<line x1="644.20" y1="90.70" x2="649.20" y2="90.70" stroke="#333" stroke-width="0.7"/>
<circle cx="643.6" cy="83.0" r="0.95" fill="#111"/>
<circle cx="642.7" cy="89.0" r="0.95" fill="#111"/>
<circle cx="645.3" cy="89.9" r="0.95" fill="#111"/>
<rect x="662.1" y="49.00" width="14.90" height="72.50" fill="#7b90c2"/>
<line x1="669.60" y1="44.20" x2="669.60" y2="54.40" stroke="#333" stroke-width="0.7"/>
<line x1="667.10" y1="44.20" x2="672.10" y2="44.20" stroke="#333" stroke-width="0.7"/>
<line x1="667.10" y1="54.40" x2="672.10" y2="54.40" stroke="#333" stroke-width="0.7"/>
<circle cx="662.8" cy="48.8" r="0.95" fill="#111"/>
<circle cx="664.5" cy="55.6" r="0.95" fill="#111"/>
<circle cx="673.0" cy="44.8" r="0.95" fill="#111"/>
<path d="M622.2,36.8 V35.1 H669.6 V36.8" fill="none" stroke="#888" stroke-width="0.6"/>
<text x="636.72" y="32.60" font-family="Liberation Serif" font-size="5.2" fill="#555" textLength="18.96" lengthAdjust="spacingAndGlyphs">p=6.7e-4</text>
<path d="M647.4,43.3 V41.6 H669.6 V43.3" fill="none" stroke="#888" stroke-width="0.6"/>
<text x="649.93" y="40.30" font-family="Liberation Serif" font-size="5.2" fill="#555" textLength="17.27" lengthAdjust="spacingAndGlyphs">p=2.1e-3</text>
<text x="623.60" y="129.80" font-family="Liberation Sans" font-size="7.8" fill="#222" text-anchor="middle">Root</text>
<text x="645.80" y="129.80" font-family="Liberation Sans" font-size="7.8" fill="#222" text-anchor="middle">Stem</text>
<text x="668.20" y="129.80" font-family="Liberation Sans" font-size="7.8" fill="#222" text-anchor="middle">Leaf</text>
<text x="475.88" y="154.60" font-family="Liberation Sans" font-size="21.0" fill="#111" textLength="17.67" lengthAdjust="spacingAndGlyphs">D</text>
<defs><linearGradient id="cbD" x1="0" y1="0" x2="0" y2="1"><stop offset="0" stop-color="#e62e2e"/><stop offset="0.5" stop-color="#ffffff"/><stop offset="1" stop-color="#2450ad"/></linearGradient></defs>
<rect x="476.1" y="172.7" width="5.8" height="54.8" fill="url(#cbD)"/>
<line x1="482.00" y1="180.90" x2="483.60" y2="180.90" stroke="#333" stroke-width="0.5"/>
<text x="484.20" y="183.20" font-family="Liberation Sans" font-size="6.6" fill="#222" text-anchor="start">2</text>
<line x1="482.00" y1="190.70" x2="483.60" y2="190.70" stroke="#333" stroke-width="0.5"/>
<text x="484.20" y="193.00" font-family="Liberation Sans" font-size="6.6" fill="#222" text-anchor="start">1</text>
<line x1="482.00" y1="200.20" x2="483.60" y2="200.20" stroke="#333" stroke-width="0.5"/>
<text x="484.20" y="202.50" font-family="Liberation Sans" font-size="6.6" fill="#222" text-anchor="start">0</text>
<line x1="482.00" y1="210.70" x2="483.60" y2="210.70" stroke="#333" stroke-width="0.5"/>
<text x="484.20" y="213.00" font-family="Liberation Sans" font-size="6.6" fill="#222" text-anchor="start">-1</text>
<line x1="482.00" y1="220.50" x2="483.60" y2="220.50" stroke="#333" stroke-width="0.5"/>
<text x="484.20" y="222.80" font-family="Liberation Sans" font-size="6.6" fill="#222" text-anchor="start">-2</text>
<rect x="508.50" y="172.20" width="43.00" height="17.32" fill="#f4a3a6" stroke="#666" stroke-width="0.45"/>
<text x="531.20" y="183.56" font-family="Liberation Sans" font-size="8.1" fill="#2a2a2a" text-anchor="middle">0.85</text>
<rect x="551.50" y="172.20" width="43.00" height="17.32" fill="#a3aadb" stroke="#666" stroke-width="0.45"/>
<text x="574.20" y="183.56" font-family="Liberation Sans" font-size="8.1" fill="#2a2a2a" text-anchor="middle">-0.67</text>
<rect x="594.50" y="172.20" width="43.00" height="17.32" fill="#ee6f74" stroke="#666" stroke-width="0.45"/>
<text x="617.20" y="183.56" font-family="Liberation Sans" font-size="8.1" fill="#2a2a2a" text-anchor="middle">1.53</text>
<text x="640.03" y="184.16" font-family="Liberation Sans" font-size="9.0" font-style="italic" fill="#1a1a1a" textLength="41.87" lengthAdjust="spacingAndGlyphs">MDHARs1</text>
<rect x="508.50" y="189.52" width="43.00" height="17.32" fill="#fbd6d7" stroke="#666" stroke-width="0.45"/>
<text x="531.20" y="200.88" font-family="Liberation Sans" font-size="8.1" fill="#2a2a2a" text-anchor="middle">0.39</text>
<rect x="551.50" y="189.52" width="43.00" height="17.32" fill="#848fcd" stroke="#666" stroke-width="0.45"/>
<text x="574.20" y="200.88" font-family="Liberation Sans" font-size="8.1" fill="#2a2a2a" text-anchor="middle">-1.01</text>
<rect x="594.50" y="189.52" width="43.00" height="17.32" fill="#ef787c" stroke="#666" stroke-width="0.45"/>
<text x="617.20" y="200.88" font-family="Liberation Sans" font-size="8.1" fill="#2a2a2a" text-anchor="middle">1.40</text>
<text x="640.03" y="201.48" font-family="Liberation Sans" font-size="9.0" font-style="italic" fill="#1a1a1a" textLength="30.05" lengthAdjust="spacingAndGlyphs">DHAR2</text>
<rect x="508.50" y="206.84" width="43.00" height="17.32" fill="#f4a6a9" stroke="#666" stroke-width="0.45"/>
<text x="531.20" y="218.20" font-family="Liberation Sans" font-size="8.1" fill="#2a2a2a" text-anchor="middle">0.82</text>
<rect x="551.50" y="206.84" width="43.00" height="17.32" fill="#f1f1f9" stroke="#666" stroke-width="0.45"/>
<text x="574.20" y="218.20" font-family="Liberation Sans" font-size="8.1" fill="#2a2a2a" text-anchor="middle">0.01</text>
<rect x="594.50" y="206.84" width="43.00" height="17.32" fill="#f4a6a9" stroke="#666" stroke-width="0.45"/>
<text x="617.20" y="218.20" font-family="Liberation Sans" font-size="8.1" fill="#2a2a2a" text-anchor="middle">0.82</text>
<text x="640.03" y="218.80" font-family="Liberation Sans" font-size="9.0" font-style="italic" fill="#1a1a1a" textLength="37.43" lengthAdjust="spacingAndGlyphs">MDHAR3</text>
<rect x="508.50" y="224.16" width="43.00" height="17.32" fill="#f29b9f" stroke="#666" stroke-width="0.45"/>
<text x="531.20" y="235.52" font-family="Liberation Sans" font-size="8.1" fill="#2a2a2a" text-anchor="middle">0.95</text>
<rect x="551.50" y="224.16" width="43.00" height="17.32" fill="#fdf3f2" stroke="#666" stroke-width="0.45"/>
<text x="574.20" y="235.52" font-family="Liberation Sans" font-size="8.1" fill="#2a2a2a" text-anchor="middle">0.12</text>
<rect x="594.50" y="224.16" width="43.00" height="17.32" fill="#f4a6a9" stroke="#666" stroke-width="0.45"/>
<text x="617.20" y="235.52" font-family="Liberation Sans" font-size="8.1" fill="#2a2a2a" text-anchor="middle">0.83</text>
<text x="640.03" y="236.12" font-family="Liberation Sans" font-size="9.0" font-style="italic" fill="#1a1a1a" textLength="41.87" lengthAdjust="spacingAndGlyphs">MDHARs2</text>
<rect x="508.50" y="241.48" width="43.00" height="17.32" fill="#ececf6" stroke="#666" stroke-width="0.45"/>
<text x="531.20" y="252.84" font-family="Liberation Sans" font-size="8.1" fill="#2a2a2a" text-anchor="middle">-0.01</text>
<rect x="551.50" y="241.48" width="43.00" height="17.32" fill="#f8c4c6" stroke="#666" stroke-width="0.45"/>
<text x="574.20" y="252.84" font-family="Liberation Sans" font-size="8.1" fill="#2a2a2a" text-anchor="middle">0.51</text>
<rect x="594.50" y="241.48" width="43.00" height="17.32" fill="#b3b9e2" stroke="#666" stroke-width="0.45"/>
<text x="617.20" y="252.84" font-family="Liberation Sans" font-size="8.1" fill="#2a2a2a" text-anchor="middle">-0.52</text>
<text x="640.03" y="253.44" font-family="Liberation Sans" font-size="9.0" font-style="italic" fill="#1a1a1a" textLength="41.87" lengthAdjust="spacingAndGlyphs">MDHARs3</text>
<rect x="508.50" y="258.80" width="43.00" height="17.32" fill="#ec5a5e" stroke="#666" stroke-width="0.45"/>
<text x="531.20" y="270.16" font-family="Liberation Sans" font-size="8.1" fill="#2a2a2a" text-anchor="middle">1.86</text>
<rect x="551.50" y="258.80" width="43.00" height="17.32" fill="#ec575b" stroke="#666" stroke-width="0.45"/>
<text x="574.20" y="270.16" font-family="Liberation Sans" font-size="8.1" fill="#2a2a2a" text-anchor="middle">1.91</text>
<rect x="594.50" y="258.80" width="43.00" height="17.32" fill="#e8e9f5" stroke="#666" stroke-width="0.45"/>
<text x="617.20" y="270.16" font-family="Liberation Sans" font-size="8.1" fill="#2a2a2a" text-anchor="middle">-0.05</text>
<text x="640.03" y="270.76" font-family="Liberation Sans" font-size="9.0" font-style="italic" fill="#1a1a1a" textLength="37.43" lengthAdjust="spacingAndGlyphs">MDHAR1</text>
<rect x="508.50" y="276.12" width="43.00" height="17.32" fill="#e52d2e" stroke="#666" stroke-width="0.45"/>
<text x="531.20" y="287.48" font-family="Liberation Sans" font-size="8.1" fill="#2a2a2a" text-anchor="middle">2.82</text>
<rect x="551.50" y="276.12" width="43.00" height="17.32" fill="#eb5156" stroke="#666" stroke-width="0.45"/>
<text x="574.20" y="287.48" font-family="Liberation Sans" font-size="8.1" fill="#2a2a2a" text-anchor="middle">1.99</text>
<rect x="594.50" y="276.12" width="43.00" height="17.32" fill="#f4a6a9" stroke="#666" stroke-width="0.45"/>
<text x="617.20" y="287.48" font-family="Liberation Sans" font-size="8.1" fill="#2a2a2a" text-anchor="middle">0.82</text>
<text x="640.03" y="288.08" font-family="Liberation Sans" font-size="9.0" font-style="italic" fill="#1a1a1a" textLength="30.05" lengthAdjust="spacingAndGlyphs">DHAR1</text>
<rect x="508.50" y="293.44" width="43.00" height="17.32" fill="#2451ad" stroke="#666" stroke-width="0.45"/>
<text x="531.20" y="304.80" font-family="Liberation Sans" font-size="8.1" fill="#2a2a2a" text-anchor="middle">-2.68</text>
<rect x="551.50" y="293.44" width="43.00" height="17.32" fill="#838fcd" stroke="#666" stroke-width="0.45"/>
<text x="574.20" y="304.80" font-family="Liberation Sans" font-size="8.1" fill="#2a2a2a" text-anchor="middle">-1.02</text>
<rect x="594.50" y="293.44" width="43.00" height="17.32" fill="#5465b8" stroke="#666" stroke-width="0.45"/>
<text x="617.20" y="304.80" font-family="Liberation Sans" font-size="8.1" fill="#2a2a2a" text-anchor="middle">-1.66</text>
<text x="640.03" y="305.40" font-family="Liberation Sans" font-size="9.0" font-style="italic" fill="#1a1a1a" textLength="37.43" lengthAdjust="spacingAndGlyphs">MDHAR2</text>
<path d="M530.0,172.2 V163.8 H573.0 V172.2" fill="none" stroke="#8a8a8a" stroke-width="0.7"/>
<path d="M551.5,163.8 V160.2 H616.0 V172.2" fill="none" stroke="#8a8a8a" stroke-width="0.7"/>
<path d="M508.5,180.9 H506.5 V198.2 H508.5" fill="none" stroke="#8a8a8a" stroke-width="0.7"/>
<path d="M508.5,215.5 H508.0 V232.8 H508.5" fill="none" stroke="#8a8a8a" stroke-width="0.7"/>
<path d="M506.5,189.5 H503.5 V224.2 H508.0" fill="none" stroke="#8a8a8a" stroke-width="0.7"/>
<path d="M503.5,206.8 H499.2 V250.1 H508.5" fill="none" stroke="#8a8a8a" stroke-width="0.7"/>
<path d="M508.5,267.5 H503.8 V284.8 H508.5" fill="none" stroke="#8a8a8a" stroke-width="0.7"/>
<path d="M499.2,228.5 H494.3 V276.1 H503.8" fill="none" stroke="#8a8a8a" stroke-width="0.7"/>
<path d="M494.3,252.3 H483.4 V302.1 H508.5" fill="none" stroke="#8a8a8a" stroke-width="0.7"/>
<line x1="530.00" y1="310.80" x2="530.00" y2="312.60" stroke="#555" stroke-width="0.5"/>
<text transform="translate(532.20,318.30) rotate(-27.0)" font-family="Liberation Sans" font-size="9.3" fill="#222" text-anchor="end">leaf vs root</text>
<line x1="573.00" y1="310.80" x2="573.00" y2="312.60" stroke="#555" stroke-width="0.5"/>
<text transform="translate(575.20,318.30) rotate(-27.0)" font-family="Liberation Sans" font-size="9.3" fill="#222" text-anchor="end">leaf vs stem</text>
<line x1="616.00" y1="310.80" x2="616.00" y2="312.60" stroke="#555" stroke-width="0.5"/>
<text transform="translate(618.20,318.30) rotate(-27.0)" font-family="Liberation Sans" font-size="9.3" fill="#222" text-anchor="end">stem vs root</text>
<text x="7.0" y="358.3" font-family="Liberation Serif" font-size="22.5" fill="#111">E</text>
<path d="M76.1,429.7 C76.8,426.1 77.1,415.5 80.5,407.8 C83.9,400.1 89.3,390.2 96.3,383.3 C103.3,376.4 113.0,370.6 122.6,366.6 C132.2,362.7 142.9,360.9 154.1,359.6 C165.3,358.3 180.8,358.8 190.0,358.8 C199.2,358.9 201.1,358.9 209.2,359.9 C217.3,360.9 229.6,362.3 238.4,364.8 C247.2,367.3 255.5,370.6 261.8,375.0 C268.1,379.4 273.5,384.8 276.4,391.1 C279.3,397.4 278.8,409.4 279.3,413.0" fill="none" stroke="#555" stroke-width="0.7" stroke-dasharray="2.2,1.6"/>
<path d="M77.4,441.0 C72.5,442.8 56.2,446.8 48.0,452.0 C39.8,457.2 33.2,464.0 28.0,472.0 C22.8,480.0 19.0,490.3 17.0,500.0 C15.0,509.7 15.7,521.3 16.0,530.0 C16.3,538.7 17.3,545.6 19.0,552.0 C20.7,558.4 25.1,565.8 26.3,568.6" fill="none" stroke="#555" stroke-width="0.7" stroke-dasharray="2.2,1.6"/>
<path d="M23.4,575.9 C22.2,579.6 17.2,590.1 16.5,598.0 C15.8,605.9 16.5,615.0 19.0,623.0 C21.5,631.0 26.5,637.0 31.4,645.9 C36.3,654.8 43.3,667.3 48.5,676.3 C53.7,685.3 57.5,693.5 62.7,700.0 C68.0,706.5 72.8,710.2 80.0,715.0 C87.2,719.8 99.0,725.4 106.0,728.7 C113.0,732.1 117.3,734.0 122.1,735.1 C126.9,736.2 131.5,735.8 135.0,735.1 C138.5,734.4 141.7,731.8 143.0,731.1" fill="none" stroke="#555" stroke-width="0.7" stroke-dasharray="2.2,1.6"/>
<path d="M146.3,727.0 C148.2,728.8 151.1,735.2 158.0,738.0 C164.9,740.8 178.2,743.8 187.7,744.0 C197.2,744.2 207.9,741.8 215.0,739.0 C222.1,736.2 227.9,729.0 230.5,727.0" fill="none" stroke="#555" stroke-width="0.7" stroke-dasharray="2.2,1.6"/>
<path d="M233.8,726.6 C236.2,727.4 242.6,731.9 248.0,731.5 C253.4,731.1 261.0,727.4 266.0,724.0 C271.0,720.6 275.5,715.2 278.0,711.0 C280.5,706.8 280.5,701.0 281.0,699.0" fill="none" stroke="#555" stroke-width="0.7" stroke-dasharray="2.2,1.6"/>
<path d="M280.7,418.8 C285.3,421.1 300.9,426.5 308.2,432.8 C315.4,439.1 319.9,449.7 324.2,456.9 C328.5,464.1 331.1,469.0 333.9,476.2 C336.7,483.4 339.4,491.3 341.1,500.3 C342.8,509.3 343.7,516.7 344.3,530.0 C344.9,543.3 345.0,567.6 344.7,580.0 C344.4,592.4 343.6,595.3 342.3,604.1 C341.0,612.9 339.2,624.2 336.7,633.0 C334.2,641.8 331.4,649.9 327.1,657.1 C322.8,664.3 316.4,670.9 311.0,676.4 C305.6,681.9 299.2,686.7 295.0,690.0 C290.8,693.3 287.5,695.0 286.0,696.0" fill="none" stroke="#555" stroke-width="0.7" stroke-dasharray="2.2,1.6"/>
<text transform="translate(137.40,361.30) rotate(-7.5)" font-family="Liberation Sans" font-size="14.5" fill="#222" textLength="47.4" lengthAdjust="spacingAndGlyphs">Clade 2</text>
<text transform="translate(14.90,518.00) rotate(-81.0)" font-family="Liberation Sans" font-size="14.5" fill="#222" textLength="47.0" lengthAdjust="spacingAndGlyphs">Clade 3</text>
<text transform="translate(25.60,673.00) rotate(50.6)" font-family="Liberation Sans" font-size="14.5" fill="#222" textLength="47.5" lengthAdjust="spacingAndGlyphs">Clade 4</text>
<text transform="translate(178.30,756.30) rotate(-7.3)" font-family="Liberation Sans" font-size="14.5" fill="#222" textLength="47.6" lengthAdjust="spacingAndGlyphs">Clade 5</text>
<text transform="translate(241.60,742.60) rotate(-20.0)" font-family="Liberation Sans" font-size="14.5" fill="#222" textLength="47.6" lengthAdjust="spacingAndGlyphs">Clade 6</text>
<text transform="translate(352.20,540.30) rotate(90.0)" font-family="Liberation Sans" font-size="14.5" fill="#222" textLength="44.6" lengthAdjust="spacingAndGlyphs">Clade 1</text>
<line x1="172.80" y1="469.70" x2="172.80" y2="555.10" stroke="#b5b5b5" stroke-width="1.3"/>
<line x1="172.80" y1="555.10" x2="132.50" y2="538.90" stroke="#222" stroke-width="0.7"/>
<line x1="172.80" y1="555.10" x2="185.20" y2="584.30" stroke="#222" stroke-width="0.7"/>
<path d="M185.2,584.3 C185.5,590 183,596 179.6,600.4 C176,604.5 171,607.5 165.5,609.8" fill="none" stroke="#222" stroke-width="0.7"/>
<line x1="172.80" y1="469.70" x2="151.00" y2="435.30" stroke="#222" stroke-width="0.7"/>
<line x1="151.00" y1="435.30" x2="147.76" y2="434.22" stroke="#222" stroke-width="0.4"/>
<line x1="147.76" y1="434.22" x2="98.82" y2="432.88" stroke="#c2c2c2" stroke-width="0.55" stroke-dasharray="1.6,1.4"/>
<line x1="151.00" y1="435.30" x2="147.85" y2="434.04" stroke="#222" stroke-width="0.4"/>
<line x1="147.85" y1="434.04" x2="105.82" y2="424.48" stroke="#c2c2c2" stroke-width="0.55" stroke-dasharray="1.6,1.4"/>
<line x1="151.00" y1="435.30" x2="149.54" y2="434.61" stroke="#222" stroke-width="0.4"/>
<line x1="149.54" y1="434.61" x2="114.60" y2="418.29" stroke="#c2c2c2" stroke-width="0.55" stroke-dasharray="1.6,1.4"/>
<line x1="151.00" y1="435.30" x2="149.53" y2="434.50" stroke="#222" stroke-width="0.4"/>
<line x1="149.53" y1="434.50" x2="123.39" y2="414.91" stroke="#c2c2c2" stroke-width="0.55" stroke-dasharray="1.6,1.4"/>
<line x1="151.00" y1="435.30" x2="148.32" y2="433.60" stroke="#222" stroke-width="0.4"/>
<line x1="148.32" y1="433.60" x2="128.54" y2="409.65" stroke="#c2c2c2" stroke-width="0.55" stroke-dasharray="1.6,1.4"/>
<line x1="172.80" y1="469.70" x2="173.46" y2="453.86" stroke="#222" stroke-width="0.4"/>
<line x1="173.46" y1="453.86" x2="131.94" y2="407.02" stroke="#c2c2c2" stroke-width="0.55" stroke-dasharray="1.6,1.4"/>
<line x1="172.80" y1="469.70" x2="174.50" y2="450.24" stroke="#222" stroke-width="0.4"/>
<line x1="174.50" y1="450.24" x2="141.60" y2="401.04" stroke="#c2c2c2" stroke-width="0.55" stroke-dasharray="1.6,1.4"/>
<line x1="172.80" y1="469.70" x2="174.81" y2="452.38" stroke="#222" stroke-width="0.4"/>
<line x1="174.81" y1="452.38" x2="147.56" y2="396.56" stroke="#c2c2c2" stroke-width="0.55" stroke-dasharray="1.6,1.4"/>
<line x1="172.80" y1="469.70" x2="175.46" y2="449.63" stroke="#222" stroke-width="0.4"/>
<line x1="175.46" y1="449.63" x2="150.75" y2="392.39" stroke="#c2c2c2" stroke-width="0.55" stroke-dasharray="1.6,1.4"/>
<line x1="172.80" y1="469.70" x2="176.04" y2="449.45" stroke="#222" stroke-width="0.4"/>
<line x1="176.04" y1="449.45" x2="157.70" y2="390.60" stroke="#c2c2c2" stroke-width="0.55" stroke-dasharray="1.6,1.4"/>
<line x1="172.80" y1="469.70" x2="175.33" y2="456.15" stroke="#222" stroke-width="0.4"/>
<line x1="175.33" y1="456.15" x2="164.50" y2="388.70" stroke="#c2c2c2" stroke-width="0.55" stroke-dasharray="1.6,1.4"/>
<line x1="172.80" y1="469.70" x2="175.54" y2="456.83" stroke="#222" stroke-width="0.4"/>
<line x1="175.54" y1="456.83" x2="171.42" y2="387.20" stroke="#c2c2c2" stroke-width="0.55" stroke-dasharray="1.6,1.4"/>
<line x1="172.80" y1="469.70" x2="178.12" y2="447.27" stroke="#222" stroke-width="0.4"/>
<line x1="178.12" y1="447.27" x2="177.83" y2="385.69" stroke="#c2c2c2" stroke-width="0.55" stroke-dasharray="1.6,1.4"/>
<line x1="172.80" y1="469.70" x2="176.85" y2="454.11" stroke="#222" stroke-width="0.4"/>
<line x1="176.85" y1="454.11" x2="184.15" y2="383.47" stroke="#c2c2c2" stroke-width="0.55" stroke-dasharray="1.6,1.4"/>
<line x1="172.80" y1="469.70" x2="177.09" y2="454.48" stroke="#222" stroke-width="0.4"/>
<line x1="177.09" y1="454.48" x2="189.87" y2="384.95" stroke="#c2c2c2" stroke-width="0.55" stroke-dasharray="1.6,1.4"/>
<line x1="172.80" y1="469.70" x2="180.04" y2="445.82" stroke="#222" stroke-width="0.4"/>
<line x1="180.04" y1="445.82" x2="195.73" y2="384.94" stroke="#ee5060" stroke-width="0.55" stroke-dasharray="1.6,1.4"/>
<line x1="172.80" y1="469.70" x2="178.73" y2="452.03" stroke="#222" stroke-width="0.4"/>
<line x1="178.73" y1="452.03" x2="204.39" y2="386.43" stroke="#c2c2c2" stroke-width="0.55" stroke-dasharray="1.6,1.4"/>
<line x1="172.80" y1="469.70" x2="180.65" y2="448.04" stroke="#222" stroke-width="0.4"/>
<line x1="180.65" y1="448.04" x2="211.65" y2="387.81" stroke="#c2c2c2" stroke-width="0.55" stroke-dasharray="1.6,1.4"/>
<line x1="172.80" y1="469.70" x2="179.63" y2="452.27" stroke="#222" stroke-width="0.4"/>
<line x1="179.63" y1="452.27" x2="218.91" y2="390.70" stroke="#c2c2c2" stroke-width="0.55" stroke-dasharray="1.6,1.4"/>
<line x1="172.80" y1="469.70" x2="180.75" y2="450.62" stroke="#222" stroke-width="0.4"/>
<line x1="180.75" y1="450.62" x2="224.74" y2="393.66" stroke="#c2c2c2" stroke-width="0.55" stroke-dasharray="1.6,1.4"/>
<line x1="172.80" y1="469.70" x2="178.77" y2="456.15" stroke="#222" stroke-width="0.4"/>
<line x1="178.77" y1="456.15" x2="230.50" y2="396.54" stroke="#c2c2c2" stroke-width="0.55" stroke-dasharray="1.6,1.4"/>
<line x1="172.80" y1="469.70" x2="181.49" y2="451.00" stroke="#222" stroke-width="0.4"/>
<line x1="181.49" y1="451.00" x2="236.23" y2="399.39" stroke="#c2c2c2" stroke-width="0.55" stroke-dasharray="1.6,1.4"/>
<line x1="172.80" y1="469.70" x2="183.15" y2="448.70" stroke="#222" stroke-width="0.4"/>
<line x1="183.15" y1="448.70" x2="242.08" y2="403.76" stroke="#c2c2c2" stroke-width="0.55" stroke-dasharray="1.6,1.4"/>
<line x1="172.80" y1="469.70" x2="181.70" y2="452.60" stroke="#222" stroke-width="0.4"/>
<line x1="181.70" y1="452.60" x2="247.84" y2="408.13" stroke="#c2c2c2" stroke-width="0.55" stroke-dasharray="1.6,1.4"/>
<line x1="172.80" y1="469.70" x2="183.27" y2="450.47" stroke="#222" stroke-width="0.4"/>
<line x1="183.27" y1="450.47" x2="252.23" y2="412.42" stroke="#c2c2c2" stroke-width="0.55" stroke-dasharray="1.6,1.4"/>
<line x1="172.80" y1="469.70" x2="183.25" y2="451.42" stroke="#222" stroke-width="0.4"/>
<line x1="183.25" y1="451.42" x2="258.00" y2="416.79" stroke="#c2c2c2" stroke-width="0.55" stroke-dasharray="1.6,1.4"/>
<line x1="132.50" y1="538.90" x2="119.22" y2="532.30" stroke="#222" stroke-width="0.4"/>
<line x1="119.22" y1="532.30" x2="82.57" y2="460.82" stroke="#c2c2c2" stroke-width="0.55" stroke-dasharray="1.6,1.4"/>
<line x1="132.50" y1="538.90" x2="120.53" y2="533.24" stroke="#222" stroke-width="0.4"/>
<line x1="120.53" y1="533.24" x2="75.46" y2="465.02" stroke="#c2c2c2" stroke-width="0.55" stroke-dasharray="1.6,1.4"/>
<line x1="132.50" y1="538.90" x2="117.20" y2="532.07" stroke="#222" stroke-width="0.4"/>
<line x1="117.20" y1="532.07" x2="69.56" y2="472.32" stroke="#c2c2c2" stroke-width="0.55" stroke-dasharray="1.6,1.4"/>
<line x1="132.50" y1="538.90" x2="119.74" y2="533.50" stroke="#222" stroke-width="0.4"/>
<line x1="119.74" y1="533.50" x2="63.82" y2="478.04" stroke="#c2c2c2" stroke-width="0.55" stroke-dasharray="1.6,1.4"/>
<line x1="132.50" y1="538.90" x2="120.62" y2="534.15" stroke="#222" stroke-width="0.4"/>
<line x1="120.62" y1="534.15" x2="59.44" y2="485.30" stroke="#c2c2c2" stroke-width="0.55" stroke-dasharray="1.6,1.4"/>
<line x1="132.50" y1="538.90" x2="116.76" y2="532.98" stroke="#222" stroke-width="0.4"/>
<line x1="116.76" y1="532.98" x2="55.09" y2="492.51" stroke="#ee5060" stroke-width="0.55" stroke-dasharray="1.6,1.4"/>
<line x1="132.50" y1="538.90" x2="110.77" y2="531.32" stroke="#222" stroke-width="0.4"/>
<line x1="110.77" y1="531.32" x2="53.74" y2="502.67" stroke="#c2c2c2" stroke-width="0.55" stroke-dasharray="1.6,1.4"/>
<line x1="132.50" y1="538.90" x2="111.96" y2="532.21" stroke="#222" stroke-width="0.4"/>
<line x1="111.96" y1="532.21" x2="50.74" y2="510.37" stroke="#c2c2c2" stroke-width="0.55" stroke-dasharray="1.6,1.4"/>
<line x1="132.50" y1="538.90" x2="112.24" y2="532.71" stroke="#222" stroke-width="0.4"/>
<line x1="112.24" y1="532.71" x2="49.36" y2="517.31" stroke="#c2c2c2" stroke-width="0.55" stroke-dasharray="1.6,1.4"/>
<line x1="132.50" y1="538.90" x2="118.40" y2="534.89" stroke="#222" stroke-width="0.4"/>
<line x1="118.40" y1="534.89" x2="44.97" y2="524.45" stroke="#c2c2c2" stroke-width="0.55" stroke-dasharray="1.6,1.4"/>
<line x1="132.50" y1="538.90" x2="114.63" y2="534.33" stroke="#222" stroke-width="0.4"/>
<line x1="114.63" y1="534.33" x2="46.49" y2="535.17" stroke="#c2c2c2" stroke-width="0.55" stroke-dasharray="1.6,1.4"/>
<line x1="132.50" y1="538.90" x2="117.58" y2="535.41" stroke="#222" stroke-width="0.4"/>
<line x1="117.58" y1="535.41" x2="46.50" y2="543.20" stroke="#c2c2c2" stroke-width="0.55" stroke-dasharray="1.6,1.4"/>
<line x1="132.50" y1="538.90" x2="118.73" y2="536.00" stroke="#222" stroke-width="0.4"/>
<line x1="118.73" y1="536.00" x2="46.49" y2="551.87" stroke="#c2c2c2" stroke-width="0.55" stroke-dasharray="1.6,1.4"/>
<line x1="132.50" y1="538.90" x2="119.45" y2="536.46" stroke="#222" stroke-width="0.4"/>
<line x1="119.45" y1="536.46" x2="47.87" y2="561.03" stroke="#c2c2c2" stroke-width="0.55" stroke-dasharray="1.6,1.4"/>
<line x1="184.30" y1="582.00" x2="190.30" y2="574.60" stroke="#222" stroke-width="0.5"/>
<line x1="184.60" y1="582.50" x2="195.22" y2="576.17" stroke="#222" stroke-width="0.4"/>
<line x1="195.22" y1="576.17" x2="274.39" y2="448.89" stroke="#c2c2c2" stroke-width="0.55" stroke-dasharray="1.6,1.4"/>
<line x1="184.60" y1="582.50" x2="196.01" y2="575.88" stroke="#222" stroke-width="0.4"/>
<line x1="196.01" y1="575.88" x2="281.15" y2="454.85" stroke="#c2c2c2" stroke-width="0.55" stroke-dasharray="1.6,1.4"/>
<line x1="184.60" y1="582.50" x2="196.43" y2="575.86" stroke="#222" stroke-width="0.4"/>
<line x1="196.43" y1="575.86" x2="287.11" y2="463.80" stroke="#c2c2c2" stroke-width="0.55" stroke-dasharray="1.6,1.4"/>
<line x1="184.60" y1="582.50" x2="197.43" y2="575.55" stroke="#222" stroke-width="0.4"/>
<line x1="197.43" y1="575.55" x2="292.04" y2="473.72" stroke="#c2c2c2" stroke-width="0.55" stroke-dasharray="1.6,1.4"/>
<line x1="184.60" y1="582.50" x2="196.26" y2="576.35" stroke="#222" stroke-width="0.4"/>
<line x1="196.26" y1="576.35" x2="295.02" y2="481.69" stroke="#c2c2c2" stroke-width="0.55" stroke-dasharray="1.6,1.4"/>
<line x1="184.60" y1="582.50" x2="197.55" y2="576.07" stroke="#222" stroke-width="0.4"/>
<line x1="197.55" y1="576.07" x2="300.98" y2="497.64" stroke="#c2c2c2" stroke-width="0.55" stroke-dasharray="1.6,1.4"/>
<line x1="184.60" y1="582.50" x2="192.00" y2="578.96" stroke="#222" stroke-width="0.4"/>
<line x1="192.00" y1="578.96" x2="303.99" y2="507.65" stroke="#c2c2c2" stroke-width="0.55" stroke-dasharray="1.6,1.4"/>
<line x1="184.60" y1="582.50" x2="194.83" y2="577.80" stroke="#222" stroke-width="0.4"/>
<line x1="194.83" y1="577.80" x2="308.95" y2="515.58" stroke="#c2c2c2" stroke-width="0.55" stroke-dasharray="1.6,1.4"/>
<line x1="184.60" y1="582.50" x2="197.95" y2="576.57" stroke="#222" stroke-width="0.4"/>
<line x1="197.95" y1="576.57" x2="311.90" y2="523.49" stroke="#ee5060" stroke-width="0.55" stroke-dasharray="1.6,1.4"/>
<line x1="185.00" y1="584.50" x2="199.16" y2="584.08" stroke="#222" stroke-width="0.4"/>
<line x1="199.16" y1="584.08" x2="315.19" y2="532.75" stroke="#c2c2c2" stroke-width="0.55" stroke-dasharray="1.6,1.4"/>
<line x1="185.00" y1="584.50" x2="199.91" y2="584.17" stroke="#222" stroke-width="0.4"/>
<line x1="199.91" y1="584.17" x2="315.14" y2="542.39" stroke="#c2c2c2" stroke-width="0.55" stroke-dasharray="1.6,1.4"/>
<line x1="185.00" y1="584.50" x2="202.47" y2="584.25" stroke="#222" stroke-width="0.4"/>
<line x1="202.47" y1="584.25" x2="316.73" y2="550.97" stroke="#c2c2c2" stroke-width="0.55" stroke-dasharray="1.6,1.4"/>
<line x1="185.00" y1="584.50" x2="199.26" y2="584.42" stroke="#222" stroke-width="0.4"/>
<line x1="199.26" y1="584.42" x2="317.64" y2="561.09" stroke="#c2c2c2" stroke-width="0.55" stroke-dasharray="1.6,1.4"/>
<line x1="185.00" y1="584.50" x2="199.55" y2="584.50" stroke="#222" stroke-width="0.4"/>
<line x1="199.55" y1="584.50" x2="316.71" y2="567.63" stroke="#c2c2c2" stroke-width="0.55" stroke-dasharray="1.6,1.4"/>
<line x1="185.00" y1="584.50" x2="200.11" y2="584.61" stroke="#222" stroke-width="0.4"/>
<line x1="200.11" y1="584.61" x2="316.71" y2="575.35" stroke="#c2c2c2" stroke-width="0.55" stroke-dasharray="1.6,1.4"/>
<line x1="185.00" y1="584.50" x2="197.29" y2="584.66" stroke="#222" stroke-width="0.4"/>
<line x1="197.29" y1="584.66" x2="313.83" y2="582.15" stroke="#c2c2c2" stroke-width="0.55" stroke-dasharray="1.6,1.4"/>
<line x1="185.20" y1="588.50" x2="197.21" y2="593.06" stroke="#222" stroke-width="0.4"/>
<line x1="197.21" y1="593.06" x2="310.86" y2="589.63" stroke="#c2c2c2" stroke-width="0.55" stroke-dasharray="1.6,1.4"/>
<line x1="185.20" y1="588.50" x2="198.15" y2="593.67" stroke="#222" stroke-width="0.4"/>
<line x1="198.15" y1="593.67" x2="309.89" y2="601.55" stroke="#c2c2c2" stroke-width="0.55" stroke-dasharray="1.6,1.4"/>
<line x1="185.20" y1="588.50" x2="198.12" y2="593.88" stroke="#222" stroke-width="0.4"/>
<line x1="198.12" y1="593.88" x2="306.91" y2="611.49" stroke="#c2c2c2" stroke-width="0.55" stroke-dasharray="1.6,1.4"/>
<line x1="185.20" y1="588.50" x2="195.17" y2="592.80" stroke="#222" stroke-width="0.4"/>
<line x1="195.17" y1="592.80" x2="303.96" y2="619.40" stroke="#c2c2c2" stroke-width="0.55" stroke-dasharray="1.6,1.4"/>
<line x1="185.20" y1="588.50" x2="194.38" y2="592.64" stroke="#222" stroke-width="0.4"/>
<line x1="194.38" y1="592.64" x2="300.99" y2="630.35" stroke="#c2c2c2" stroke-width="0.55" stroke-dasharray="1.6,1.4"/>
<line x1="185.20" y1="588.50" x2="196.30" y2="593.68" stroke="#222" stroke-width="0.4"/>
<line x1="196.30" y1="593.68" x2="294.03" y2="637.29" stroke="#c2c2c2" stroke-width="0.55" stroke-dasharray="1.6,1.4"/>
<line x1="181.00" y1="599.80" x2="196.45" y2="621.61" stroke="#222" stroke-width="0.4"/>
<line x1="196.45" y1="621.61" x2="290.05" y2="645.26" stroke="#c2c2c2" stroke-width="0.55" stroke-dasharray="1.6,1.4"/>
<line x1="181.00" y1="599.80" x2="196.50" y2="621.96" stroke="#222" stroke-width="0.4"/>
<line x1="196.50" y1="621.96" x2="286.08" y2="653.23" stroke="#c2c2c2" stroke-width="0.55" stroke-dasharray="1.6,1.4"/>
<line x1="181.00" y1="599.80" x2="194.27" y2="618.99" stroke="#222" stroke-width="0.4"/>
<line x1="194.27" y1="618.99" x2="280.11" y2="659.20" stroke="#c2c2c2" stroke-width="0.55" stroke-dasharray="1.6,1.4"/>
<line x1="181.00" y1="599.80" x2="192.78" y2="617.03" stroke="#222" stroke-width="0.4"/>
<line x1="192.78" y1="617.03" x2="277.15" y2="666.15" stroke="#c2c2c2" stroke-width="0.55" stroke-dasharray="1.6,1.4"/>
<line x1="181.00" y1="599.80" x2="191.07" y2="614.72" stroke="#222" stroke-width="0.4"/>
<line x1="191.07" y1="614.72" x2="273.15" y2="674.15" stroke="#c2c2c2" stroke-width="0.55" stroke-dasharray="1.6,1.4"/>
<line x1="181.00" y1="599.80" x2="195.02" y2="620.85" stroke="#222" stroke-width="0.4"/>
<line x1="195.02" y1="620.85" x2="265.15" y2="679.15" stroke="#c2c2c2" stroke-width="0.55" stroke-dasharray="1.6,1.4"/>
<line x1="181.00" y1="599.80" x2="191.49" y2="640.60" stroke="#222" stroke-width="0.4"/>
<line x1="191.49" y1="640.60" x2="228.53" y2="702.30" stroke="#c2c2c2" stroke-width="0.55" stroke-dasharray="1.6,1.4"/>
<line x1="181.00" y1="599.80" x2="190.64" y2="636.89" stroke="#222" stroke-width="0.4"/>
<line x1="190.64" y1="636.89" x2="234.84" y2="701.54" stroke="#c2c2c2" stroke-width="0.55" stroke-dasharray="1.6,1.4"/>
<line x1="181.00" y1="599.80" x2="193.54" y2="647.50" stroke="#222" stroke-width="0.4"/>
<line x1="193.54" y1="647.50" x2="240.36" y2="697.48" stroke="#c2c2c2" stroke-width="0.55" stroke-dasharray="1.6,1.4"/>
<line x1="181.00" y1="599.80" x2="190.42" y2="635.16" stroke="#222" stroke-width="0.4"/>
<line x1="190.42" y1="635.16" x2="248.40" y2="696.66" stroke="#c2c2c2" stroke-width="0.55" stroke-dasharray="1.6,1.4"/>
<line x1="181.00" y1="599.80" x2="193.17" y2="644.98" stroke="#222" stroke-width="0.4"/>
<line x1="193.17" y1="644.98" x2="253.13" y2="691.98" stroke="#c2c2c2" stroke-width="0.55" stroke-dasharray="1.6,1.4"/>
<line x1="181.00" y1="599.80" x2="192.31" y2="641.33" stroke="#222" stroke-width="0.4"/>
<line x1="192.31" y1="641.33" x2="259.45" y2="688.85" stroke="#c2c2c2" stroke-width="0.55" stroke-dasharray="1.6,1.4"/>
<line x1="180.20" y1="600.30" x2="177.97" y2="628.29" stroke="#222" stroke-width="0.4"/>
<line x1="177.97" y1="628.29" x2="157.77" y2="710.03" stroke="#c2c2c2" stroke-width="0.55" stroke-dasharray="1.6,1.4"/>
<line x1="180.20" y1="600.30" x2="177.08" y2="641.50" stroke="#222" stroke-width="0.4"/>
<line x1="177.08" y1="641.50" x2="164.39" y2="710.04" stroke="#c2c2c2" stroke-width="0.55" stroke-dasharray="1.6,1.4"/>
<line x1="180.20" y1="600.30" x2="178.33" y2="626.51" stroke="#222" stroke-width="0.4"/>
<line x1="178.33" y1="626.51" x2="170.91" y2="710.02" stroke="#c2c2c2" stroke-width="0.55" stroke-dasharray="1.6,1.4"/>
<line x1="180.20" y1="600.30" x2="177.70" y2="636.90" stroke="#222" stroke-width="0.4"/>
<line x1="177.70" y1="636.90" x2="175.97" y2="711.41" stroke="#c2c2c2" stroke-width="0.55" stroke-dasharray="1.6,1.4"/>
<line x1="180.20" y1="600.30" x2="178.59" y2="625.78" stroke="#222" stroke-width="0.4"/>
<line x1="178.59" y1="625.78" x2="183.97" y2="710.71" stroke="#c2c2c2" stroke-width="0.55" stroke-dasharray="1.6,1.4"/>
<line x1="180.20" y1="600.30" x2="178.51" y2="628.70" stroke="#222" stroke-width="0.4"/>
<line x1="178.51" y1="628.70" x2="189.77" y2="709.21" stroke="#c2c2c2" stroke-width="0.55" stroke-dasharray="1.6,1.4"/>
<line x1="180.20" y1="600.30" x2="177.89" y2="642.22" stroke="#222" stroke-width="0.4"/>
<line x1="177.89" y1="642.22" x2="196.35" y2="708.51" stroke="#c2c2c2" stroke-width="0.55" stroke-dasharray="1.6,1.4"/>
<line x1="180.20" y1="600.30" x2="178.87" y2="628.04" stroke="#222" stroke-width="0.4"/>
<line x1="178.87" y1="628.04" x2="206.61" y2="703.42" stroke="#c2c2c2" stroke-width="0.55" stroke-dasharray="1.6,1.4"/>
<line x1="180.20" y1="600.30" x2="178.69" y2="635.82" stroke="#222" stroke-width="0.4"/>
<line x1="178.69" y1="635.82" x2="214.67" y2="701.91" stroke="#c2c2c2" stroke-width="0.55" stroke-dasharray="1.6,1.4"/>
<line x1="180.20" y1="600.30" x2="178.97" y2="632.54" stroke="#222" stroke-width="0.4"/>
<line x1="178.97" y1="632.54" x2="221.93" y2="701.21" stroke="#c2c2c2" stroke-width="0.55" stroke-dasharray="1.6,1.4"/>
<line x1="168.50" y1="608.80" x2="154.56" y2="610.88" stroke="#222" stroke-width="0.4"/>
<line x1="154.56" y1="610.88" x2="48.70" y2="580.90" stroke="#c2c2c2" stroke-width="0.55" stroke-dasharray="1.6,1.4"/>
<line x1="168.50" y1="608.80" x2="155.56" y2="610.91" stroke="#222" stroke-width="0.4"/>
<line x1="155.56" y1="610.91" x2="47.39" y2="587.35" stroke="#c2c2c2" stroke-width="0.55" stroke-dasharray="1.6,1.4"/>
<line x1="168.50" y1="608.80" x2="158.14" y2="610.63" stroke="#222" stroke-width="0.4"/>
<line x1="158.14" y1="610.63" x2="50.47" y2="594.25" stroke="#c2c2c2" stroke-width="0.55" stroke-dasharray="1.6,1.4"/>
<line x1="168.50" y1="608.80" x2="150.33" y2="612.44" stroke="#222" stroke-width="0.4"/>
<line x1="150.33" y1="612.44" x2="54.68" y2="605.29" stroke="#ee5060" stroke-width="0.55" stroke-dasharray="1.6,1.4"/>
<line x1="168.50" y1="608.80" x2="159.64" y2="610.72" stroke="#222" stroke-width="0.4"/>
<line x1="159.64" y1="610.72" x2="53.14" y2="612.63" stroke="#c2c2c2" stroke-width="0.55" stroke-dasharray="1.6,1.4"/>
<line x1="168.50" y1="608.80" x2="154.36" y2="612.13" stroke="#222" stroke-width="0.4"/>
<line x1="154.36" y1="612.13" x2="56.69" y2="620.49" stroke="#c2c2c2" stroke-width="0.55" stroke-dasharray="1.6,1.4"/>
<line x1="168.50" y1="608.80" x2="150.22" y2="613.52" stroke="#222" stroke-width="0.4"/>
<line x1="150.22" y1="613.52" x2="61.91" y2="629.05" stroke="#c2c2c2" stroke-width="0.55" stroke-dasharray="1.6,1.4"/>
<line x1="168.50" y1="608.80" x2="158.99" y2="611.51" stroke="#222" stroke-width="0.4"/>
<line x1="158.99" y1="611.51" x2="66.09" y2="638.99" stroke="#c2c2c2" stroke-width="0.55" stroke-dasharray="1.6,1.4"/>
<line x1="168.50" y1="608.80" x2="154.05" y2="613.18" stroke="#222" stroke-width="0.4"/>
<line x1="154.05" y1="613.18" x2="72.09" y2="644.49" stroke="#c2c2c2" stroke-width="0.55" stroke-dasharray="1.6,1.4"/>
<line x1="168.50" y1="608.80" x2="153.48" y2="613.65" stroke="#222" stroke-width="0.4"/>
<line x1="153.48" y1="613.65" x2="75.05" y2="651.42" stroke="#ee5060" stroke-width="0.55" stroke-dasharray="1.6,1.4"/>
<line x1="168.50" y1="608.80" x2="159.57" y2="611.90" stroke="#222" stroke-width="0.4"/>
<line x1="159.57" y1="611.90" x2="78.99" y2="659.33" stroke="#c2c2c2" stroke-width="0.55" stroke-dasharray="1.6,1.4"/>
<line x1="168.50" y1="608.80" x2="156.12" y2="613.30" stroke="#222" stroke-width="0.4"/>
<line x1="156.12" y1="613.30" x2="81.93" y2="664.74" stroke="#c2c2c2" stroke-width="0.55" stroke-dasharray="1.6,1.4"/>
<line x1="168.50" y1="608.80" x2="151.54" y2="637.27" stroke="#222" stroke-width="0.4"/>
<line x1="151.54" y1="637.27" x2="86.99" y2="671.83" stroke="#c2c2c2" stroke-width="0.55" stroke-dasharray="1.6,1.4"/>
<line x1="168.50" y1="608.80" x2="153.35" y2="634.54" stroke="#222" stroke-width="0.4"/>
<line x1="153.35" y1="634.54" x2="90.88" y2="675.68" stroke="#c2c2c2" stroke-width="0.55" stroke-dasharray="1.6,1.4"/>
<line x1="168.50" y1="608.80" x2="151.84" y2="637.63" stroke="#222" stroke-width="0.4"/>
<line x1="151.84" y1="637.63" x2="96.88" y2="681.18" stroke="#c2c2c2" stroke-width="0.55" stroke-dasharray="1.6,1.4"/>
<line x1="168.50" y1="608.80" x2="156.22" y2="630.28" stroke="#222" stroke-width="0.4"/>
<line x1="156.22" y1="630.28" x2="101.17" y2="683.58" stroke="#c2c2c2" stroke-width="0.55" stroke-dasharray="1.6,1.4"/>
<line x1="168.50" y1="608.80" x2="149.61" y2="642.58" stroke="#222" stroke-width="0.4"/>
<line x1="149.61" y1="642.58" x2="108.85" y2="689.15" stroke="#c2c2c2" stroke-width="0.55" stroke-dasharray="1.6,1.4"/>
<line x1="168.50" y1="608.80" x2="149.70" y2="642.91" stroke="#222" stroke-width="0.4"/>
<line x1="149.70" y1="642.91" x2="113.71" y2="693.03" stroke="#ee5060" stroke-width="0.55" stroke-dasharray="1.6,1.4"/>
<line x1="168.50" y1="608.80" x2="151.87" y2="639.63" stroke="#222" stroke-width="0.4"/>
<line x1="151.87" y1="639.63" x2="120.69" y2="699.02" stroke="#c2c2c2" stroke-width="0.55" stroke-dasharray="1.6,1.4"/>
<line x1="168.50" y1="608.80" x2="157.42" y2="629.73" stroke="#222" stroke-width="0.4"/>
<line x1="157.42" y1="629.73" x2="127.67" y2="703.01" stroke="#c2c2c2" stroke-width="0.55" stroke-dasharray="1.6,1.4"/>
<line x1="168.50" y1="608.80" x2="153.69" y2="637.14" stroke="#222" stroke-width="0.4"/>
<line x1="153.69" y1="637.14" x2="133.08" y2="703.95" stroke="#c2c2c2" stroke-width="0.55" stroke-dasharray="1.6,1.4"/>
<line x1="168.50" y1="608.80" x2="155.88" y2="633.28" stroke="#222" stroke-width="0.4"/>
<line x1="155.88" y1="633.28" x2="138.43" y2="705.88" stroke="#c2c2c2" stroke-width="0.55" stroke-dasharray="1.6,1.4"/>
<line x1="168.50" y1="608.80" x2="156.83" y2="631.75" stroke="#222" stroke-width="0.4"/>
<line x1="156.83" y1="631.75" x2="143.83" y2="707.85" stroke="#c2c2c2" stroke-width="0.55" stroke-dasharray="1.6,1.4"/>
<text transform="translate(276.85,449.89) rotate(-41.0)" font-family="Liberation Serif" font-style="italic" font-size="7.9" fill="#d0642c" text-anchor="start">Umi_2</text>
<text transform="translate(283.68,455.68) rotate(-45.0)" font-family="Liberation Serif" font-style="italic" font-size="7.9" fill="#d888c4" text-anchor="start">Mno_1</text>
<text transform="translate(289.59,464.76) rotate(-42.0)" font-family="Liberation Serif" font-style="italic" font-size="7.9" fill="#f28c3a" text-anchor="start">Bni_1</text>
<text transform="translate(294.43,474.89) rotate(-37.0)" font-family="Liberation Serif" font-style="italic" font-size="7.9" fill="#6c6cb4" text-anchor="start">Udi_2</text>
<text transform="translate(297.36,482.94) rotate(-35.0)" font-family="Liberation Serif" font-style="italic" font-size="7.9" fill="#e9df52" text-anchor="start">Csa_2</text>
<text transform="translate(303.26,499.01) rotate(-32.0)" font-family="Liberation Serif" font-style="italic" font-size="7.9" fill="#f58a64" text-anchor="start">Hlu_1</text>
<text transform="translate(306.29,508.99) rotate(-33.0)" font-family="Liberation Serif" font-style="italic" font-size="7.9" fill="#d9b088" text-anchor="start">Rru_1</text>
<text transform="translate(311.15,517.07) rotate(-29.0)" font-family="Liberation Serif" font-style="italic" font-size="7.9" fill="#2a9a70" text-anchor="start">Sth_2</text>
<text transform="translate(313.96,525.17) rotate(-24.0)" font-family="Liberation Serif" font-style="italic" font-size="7.9" fill="#e02828" text-anchor="start">Phe_3</text>
<text transform="translate(317.19,534.50) rotate(-22.0)" font-family="Liberation Serif" font-style="italic" font-size="7.9" fill="#d8348a" text-anchor="start">Zju_1</text>
<text transform="translate(316.87,544.40) rotate(-14.0)" font-family="Liberation Serif" font-style="italic" font-size="7.9" fill="#1e3a3c" text-anchor="start">Rst_1</text>
<text transform="translate(318.43,553.01) rotate(-13.0)" font-family="Liberation Serif" font-style="italic" font-size="7.9" fill="#8fcc5c" text-anchor="start">Ppe_2</text>
<text transform="translate(319.37,563.10) rotate(-14.0)" font-family="Liberation Serif" font-style="italic" font-size="7.9" fill="#8fcc5c" text-anchor="start">Ppe_1</text>
<text transform="translate(318.15,569.86) rotate(-6.0)" font-family="Liberation Serif" font-style="italic" font-size="7.9" fill="#f2c445" text-anchor="start">Pco_4</text>
<text transform="translate(318.19,577.55) rotate(-7.0)" font-family="Liberation Serif" font-style="italic" font-size="7.9" fill="#8aa0d4" text-anchor="start">Mdo_2</text>
<text transform="translate(314.51,584.72) rotate(12.0)" font-family="Liberation Serif" font-style="italic" font-size="7.9" fill="#f2c445" text-anchor="start">Pco_1</text>
<text transform="translate(311.27,592.25) rotate(18.0)" font-family="Liberation Serif" font-style="italic" font-size="7.9" fill="#8aa0d4" text-anchor="start">Mdo_5</text>
<text transform="translate(310.11,604.20) rotate(22.0)" font-family="Liberation Serif" font-style="italic" font-size="7.9" fill="#24918a" text-anchor="start">Emo_4</text>
<text transform="translate(307.00,614.15) rotate(25.0)" font-family="Liberation Serif" font-style="italic" font-size="7.9" fill="#24918a" text-anchor="start">Emo_2</text>
<text transform="translate(303.81,622.05) rotate(30.0)" font-family="Liberation Serif" font-style="italic" font-size="7.9" fill="#5fbf9c" text-anchor="start">Hsa_3</text>
<text transform="translate(300.71,632.99) rotate(33.0)" font-family="Liberation Serif" font-style="italic" font-size="7.9" fill="#5fbf9c" text-anchor="start">Hsa_2</text>
<text transform="translate(293.61,639.92) rotate(36.0)" font-family="Liberation Serif" font-style="italic" font-size="7.9" fill="#5fbf9c" text-anchor="start">Hsa_1</text>
<text transform="translate(289.54,647.87) rotate(38.0)" font-family="Liberation Serif" font-style="italic" font-size="7.9" fill="#2a8ca0" text-anchor="start">Ach_6</text>
<text transform="translate(285.48,655.82) rotate(40.0)" font-family="Liberation Serif" font-style="italic" font-size="7.9" fill="#8b4a2b" text-anchor="start">Can_3</text>
<text transform="translate(279.41,661.76) rotate(42.0)" font-family="Liberation Serif" font-style="italic" font-size="7.9" fill="#2a8ca0" text-anchor="start">Ach_5</text>
<text transform="translate(276.32,668.68) rotate(45.0)" font-family="Liberation Serif" font-style="italic" font-size="7.9" fill="#2a8ca0" text-anchor="start">Ach_3</text>
<text transform="translate(272.32,676.68) rotate(45.0)" font-family="Liberation Serif" font-style="italic" font-size="7.9" fill="#e88abf" text-anchor="start">Csi_1</text>
<text transform="translate(264.32,681.68) rotate(45.0)" font-family="Liberation Serif" font-style="italic" font-size="7.9" fill="#2878b8" text-anchor="start">Vvi_2</text>
<text transform="translate(96.27,433.62) rotate(47.0)" font-family="Liberation Serif" font-style="italic" font-size="7.9" fill="#1e3a3c" text-anchor="end">Rst_2</text>
<text transform="translate(103.27,425.22) rotate(47.0)" font-family="Liberation Serif" font-style="italic" font-size="7.9" fill="#1e3a3c" text-anchor="end">Rst_6</text>
<text transform="translate(112.04,418.99) rotate(48.0)" font-family="Liberation Serif" font-style="italic" font-size="7.9" fill="#1e3a3c" text-anchor="end">Rst_5</text>
<text transform="translate(120.81,415.55) rotate(49.0)" font-family="Liberation Serif" font-style="italic" font-size="7.9" fill="#1e3a3c" text-anchor="end">Rst_4</text>
<text transform="translate(125.93,410.16) rotate(52.0)" font-family="Liberation Serif" font-style="italic" font-size="7.9" fill="#1e3a3c" text-anchor="end">Rst_3</text>
<text transform="translate(129.29,407.26) rotate(58.0)" font-family="Liberation Serif" font-style="italic" font-size="7.9" fill="#8fcc5c" text-anchor="end">Ppe_3</text>
<text transform="translate(138.95,401.19) rotate(60.0)" font-family="Liberation Serif" font-style="italic" font-size="7.9" fill="#f2c445" text-anchor="end">Pco_3</text>
<text transform="translate(144.91,396.61) rotate(62.0)" font-family="Liberation Serif" font-style="italic" font-size="7.9" fill="#8aa0d4" text-anchor="end">Mdo_1</text>
<text transform="translate(152.95,390.91) rotate(-97.0)" font-family="Liberation Serif" font-style="italic" font-size="7.9" fill="#2878b8" text-anchor="start">Vvi_1</text>
<text transform="translate(159.96,389.19) rotate(-95.0)" font-family="Liberation Serif" font-style="italic" font-size="7.9" fill="#e88abf" text-anchor="start">Csi_2</text>
<text transform="translate(166.87,387.50) rotate(-90.0)" font-family="Liberation Serif" font-style="italic" font-size="7.9" fill="#8b4a2b" text-anchor="start">Can_1</text>
<text transform="translate(173.86,386.17) rotate(-86.0)" font-family="Liberation Serif" font-style="italic" font-size="7.9" fill="#2a8ca0" text-anchor="start">Ach_4</text>
<text transform="translate(180.35,384.83) rotate(-82.0)" font-family="Liberation Serif" font-style="italic" font-size="7.9" fill="#2a8ca0" text-anchor="start">Ach_7</text>
<text transform="translate(186.72,382.79) rotate(-78.0)" font-family="Liberation Serif" font-style="italic" font-size="7.9" fill="#d9b088" text-anchor="start">Rru_2</text>
<text transform="translate(192.48,384.45) rotate(-74.0)" font-family="Liberation Serif" font-style="italic" font-size="7.9" fill="#2a9a70" text-anchor="start">Sth_1</text>
<text transform="translate(198.35,384.53) rotate(-72.0)" font-family="Liberation Serif" font-style="italic" font-size="7.9" fill="#e02828" text-anchor="start">Phe_2</text>
<text transform="translate(207.03,386.11) rotate(-70.0)" font-family="Liberation Serif" font-style="italic" font-size="7.9" fill="#d8348a" text-anchor="start">Zju_2</text>
<text transform="translate(214.30,387.59) rotate(-68.0)" font-family="Liberation Serif" font-style="italic" font-size="7.9" fill="#24918a" text-anchor="start">Emo_3</text>
<text transform="translate(221.57,390.56) rotate(-66.0)" font-family="Liberation Serif" font-style="italic" font-size="7.9" fill="#5fbf9c" text-anchor="start">Hsa_6</text>
<text transform="translate(227.39,393.71) rotate(-62.0)" font-family="Liberation Serif" font-style="italic" font-size="7.9" fill="#d0642c" text-anchor="start">Umi_3</text>
<text transform="translate(233.15,396.69) rotate(-60.0)" font-family="Liberation Serif" font-style="italic" font-size="7.9" fill="#d0642c" text-anchor="start">Umi_4</text>
<text transform="translate(238.86,399.73) rotate(-56.0)" font-family="Liberation Serif" font-style="italic" font-size="7.9" fill="#e9df52" text-anchor="start">Csa_1</text>
<text transform="translate(244.69,404.23) rotate(-53.0)" font-family="Liberation Serif" font-style="italic" font-size="7.9" fill="#f58a64" text-anchor="start">Hlu_3</text>
<text transform="translate(250.44,408.69) rotate(-51.0)" font-family="Liberation Serif" font-style="italic" font-size="7.9" fill="#d888c4" text-anchor="start">Mno_3</text>
<text transform="translate(254.82,413.02) rotate(-50.0)" font-family="Liberation Serif" font-style="italic" font-size="7.9" fill="#f28c3a" text-anchor="start">Bni_2</text>
<text transform="translate(260.56,417.49) rotate(-48.0)" font-family="Liberation Serif" font-style="italic" font-size="7.9" fill="#6c6cb4" text-anchor="start">Udi_1</text>
<text transform="translate(79.98,461.42) rotate(50.0)" font-family="Liberation Serif" font-style="italic" font-size="7.9" fill="#8b4a2b" text-anchor="end">Can_2</text>
<text transform="translate(73.07,466.19) rotate(37.0)" font-family="Liberation Serif" font-style="italic" font-size="7.9" fill="#2a8ca0" text-anchor="end">Ach_2</text>
<text transform="translate(67.17,473.49) rotate(37.0)" font-family="Liberation Serif" font-style="italic" font-size="7.9" fill="#2a8ca0" text-anchor="end">Ach_1</text>
<text transform="translate(61.54,479.41) rotate(32.0)" font-family="Liberation Serif" font-style="italic" font-size="7.9" fill="#2878b8" text-anchor="end">Vvi_3</text>
<text transform="translate(57.21,486.75) rotate(30.0)" font-family="Liberation Serif" font-style="italic" font-size="7.9" fill="#d8348a" text-anchor="end">Zju_3</text>
<text transform="translate(53.00,494.15) rotate(25.0)" font-family="Liberation Serif" font-style="italic" font-size="7.9" fill="#e02828" text-anchor="end">Phe_1</text>
<text transform="translate(51.87,504.55) rotate(18.0)" font-family="Liberation Serif" font-style="italic" font-size="7.9" fill="#8aa0d4" text-anchor="end">Mdo_4</text>
<text transform="translate(48.87,512.25) rotate(18.0)" font-family="Liberation Serif" font-style="italic" font-size="7.9" fill="#8fcc5c" text-anchor="end">Ppe_4</text>
<text transform="translate(47.59,519.29) rotate(15.0)" font-family="Liberation Serif" font-style="italic" font-size="7.9" fill="#d888c4" text-anchor="end">Mno_2</text>
<text transform="translate(43.31,526.52) rotate(12.0)" font-family="Liberation Serif" font-style="italic" font-size="7.9" fill="#d0642c" text-anchor="end">Umi_1</text>
<text transform="translate(44.97,537.35) rotate(8.0)" font-family="Liberation Serif" font-style="italic" font-size="7.9" fill="#f58a64" text-anchor="end">Hlu_2</text>
<text transform="translate(45.30,545.57) rotate(0.0)" font-family="Liberation Serif" font-style="italic" font-size="7.9" fill="#e9df52" text-anchor="end">Csa_3</text>
<text transform="translate(45.55,554.36) rotate(-6.0)" font-family="Liberation Serif" font-style="italic" font-size="7.9" fill="#6c6cb4" text-anchor="end">Udi_3</text>
<text transform="translate(47.23,563.61) rotate(-13.0)" font-family="Liberation Serif" font-style="italic" font-size="7.9" fill="#f28c3a" text-anchor="end">Bni_3</text>
<text transform="translate(47.71,583.36) rotate(-5.0)" font-family="Liberation Serif" font-style="italic" font-size="7.9" fill="#d8348a" text-anchor="end">Zju_s2</text>
<text transform="translate(46.49,589.85) rotate(-7.0)" font-family="Liberation Serif" font-style="italic" font-size="7.9" fill="#d8348a" text-anchor="end">Zju_s3</text>
<text transform="translate(49.79,596.82) rotate(-12.0)" font-family="Liberation Serif" font-style="italic" font-size="7.9" fill="#d8348a" text-anchor="end">Zju_s4</text>
<text transform="translate(53.91,607.83) rotate(-10.0)" font-family="Liberation Serif" font-style="italic" font-size="7.9" fill="#e02828" text-anchor="end">Phe_s3</text>
<text transform="translate(52.73,615.25) rotate(-18.0)" font-family="Liberation Serif" font-style="italic" font-size="7.9" fill="#d8348a" text-anchor="end">Zju_s5</text>
<text transform="translate(56.60,623.15) rotate(-25.0)" font-family="Liberation Serif" font-style="italic" font-size="7.9" fill="#d8348a" text-anchor="end">Zju_s7</text>
<text transform="translate(61.69,631.70) rotate(-22.0)" font-family="Liberation Serif" font-style="italic" font-size="7.9" fill="#d8348a" text-anchor="end">Zju_s1</text>
<text transform="translate(66.00,641.65) rotate(-25.0)" font-family="Liberation Serif" font-style="italic" font-size="7.9" fill="#d8348a" text-anchor="end">Zju_s8</text>
<text transform="translate(72.00,647.15) rotate(-25.0)" font-family="Liberation Serif" font-style="italic" font-size="7.9" fill="#d8348a" text-anchor="end">Zju_s11</text>
<text transform="translate(75.15,654.07) rotate(-29.0)" font-family="Liberation Serif" font-style="italic" font-size="7.9" fill="#e02828" text-anchor="end">Phe_s2</text>
<text transform="translate(79.33,661.96) rotate(-34.0)" font-family="Liberation Serif" font-style="italic" font-size="7.9" fill="#d8348a" text-anchor="end">Zju_s6</text>
<text transform="translate(82.49,667.34) rotate(-39.0)" font-family="Liberation Serif" font-style="italic" font-size="7.9" fill="#2a9a70" text-anchor="end">Sth_s2</text>
<text transform="translate(87.33,674.46) rotate(-34.0)" font-family="Liberation Serif" font-style="italic" font-size="7.9" fill="#d9b088" text-anchor="end">Rru_s2</text>
<text transform="translate(91.62,678.23) rotate(-43.0)" font-family="Liberation Serif" font-style="italic" font-size="7.9" fill="#2a9a70" text-anchor="end">Sth_s1</text>
<text transform="translate(97.62,683.73) rotate(-43.0)" font-family="Liberation Serif" font-style="italic" font-size="7.9" fill="#d9b088" text-anchor="end">Rru_s3</text>
<text transform="translate(102.22,686.02) rotate(-50.0)" font-family="Liberation Serif" font-style="italic" font-size="7.9" fill="#d8348a" text-anchor="end">Zju_s9</text>
<text transform="translate(109.68,691.68) rotate(-45.0)" font-family="Liberation Serif" font-style="italic" font-size="7.9" fill="#d8348a" text-anchor="end">Zju_s12</text>
<text transform="translate(114.92,695.39) rotate(-54.0)" font-family="Liberation Serif" font-style="italic" font-size="7.9" fill="#e02828" text-anchor="end">Phe_s1</text>
<text transform="translate(121.94,701.36) rotate(-55.0)" font-family="Liberation Serif" font-style="italic" font-size="7.9" fill="#d8348a" text-anchor="end">Zju_s10</text>
<text transform="translate(128.96,705.33) rotate(-56.0)" font-family="Liberation Serif" font-style="italic" font-size="7.9" fill="#d8348a" text-anchor="end">Zju_s13</text>
<text transform="translate(134.57,706.15) rotate(-61.0)" font-family="Liberation Serif" font-style="italic" font-size="7.9" fill="#2a9a70" text-anchor="end">Sth_s3</text>
<text transform="translate(140.21,707.85) rotate(-69.0)" font-family="Liberation Serif" font-style="italic" font-size="7.9" fill="#d9b088" text-anchor="end">Rru_s1</text>
<text transform="translate(145.78,709.65) rotate(-74.0)" font-family="Liberation Serif" font-style="italic" font-size="7.9" fill="#d9b088" text-anchor="end">Rru_s4</text>
<text transform="translate(159.81,711.73) rotate(-77.0)" font-family="Liberation Serif" font-style="italic" font-size="7.9" fill="#f58a64" text-anchor="end">Hlu_s1</text>
<text transform="translate(166.40,711.77) rotate(-76.0)" font-family="Liberation Serif" font-style="italic" font-size="7.9" fill="#e9df52" text-anchor="end">Csa_s1</text>
<text transform="translate(173.03,711.61) rotate(-80.0)" font-family="Liberation Serif" font-style="italic" font-size="7.9" fill="#d888c4" text-anchor="end">Mno_s1</text>
<text transform="translate(178.15,712.93) rotate(-82.0)" font-family="Liberation Serif" font-style="italic" font-size="7.9" fill="#6c6cb4" text-anchor="end">Udi_s1</text>
<text transform="translate(186.15,712.23) rotate(-82.0)" font-family="Liberation Serif" font-style="italic" font-size="7.9" fill="#f28c3a" text-anchor="end">Bni_s1</text>
<text transform="translate(191.95,710.73) rotate(-82.0)" font-family="Liberation Serif" font-style="italic" font-size="7.9" fill="#d0642c" text-anchor="end">Umi_s1</text>
<text transform="translate(198.55,709.99) rotate(-83.0)" font-family="Liberation Serif" font-style="italic" font-size="7.9" fill="#5fbf9c" text-anchor="end">Hsa_5</text>
<text transform="translate(208.73,705.01) rotate(-80.0)" font-family="Liberation Serif" font-style="italic" font-size="7.9" fill="#24918a" text-anchor="end">Emo_5</text>
<text transform="translate(216.85,703.43) rotate(-82.0)" font-family="Liberation Serif" font-style="italic" font-size="7.9" fill="#5fbf9c" text-anchor="end">Hsa_1</text>
<text transform="translate(224.16,702.65) rotate(-84.0)" font-family="Liberation Serif" font-style="italic" font-size="7.9" fill="#24918a" text-anchor="end">Emo_1</text>
<text transform="translate(226.82,704.33) rotate(67.0)" font-family="Liberation Serif" font-style="italic" font-size="7.9" fill="#8aa0d4" text-anchor="start">Mdo_3</text>
<text transform="translate(233.31,703.71) rotate(62.0)" font-family="Liberation Serif" font-style="italic" font-size="7.9" fill="#f2c445" text-anchor="start">Pco_s1</text>
<text transform="translate(238.99,699.76) rotate(58.0)" font-family="Liberation Serif" font-style="italic" font-size="7.9" fill="#8aa0d4" text-anchor="start">Mdo_s1</text>
<text transform="translate(246.95,698.88) rotate(60.0)" font-family="Liberation Serif" font-style="italic" font-size="7.9" fill="#f2c445" text-anchor="start">Pco_2</text>
<text transform="translate(252.08,694.42) rotate(50.0)" font-family="Liberation Serif" font-style="italic" font-size="7.9" fill="#8fcc5c" text-anchor="start">Ppe_s1</text>
<text transform="translate(258.62,691.38) rotate(45.0)" font-family="Liberation Serif" font-style="italic" font-size="7.9" fill="#1e3a3c" text-anchor="start">Rst_7</text>
<rect x="38.7" y="765.4" width="7.5" height="7.5" fill="#f28c3a"/>
<text x="48.7" y="772.7" font-family="Liberation Sans" font-style="italic" font-size="9.2" fill="#222">Bni</text>
<rect x="66.7" y="765.4" width="7.5" height="7.5" fill="#e9df52"/>
<text x="76.7" y="772.7" font-family="Liberation Sans" font-style="italic" font-size="9.2" fill="#222">Csa</text>
<rect x="95.0" y="765.4" width="7.5" height="7.5" fill="#8b4a2b"/>
<text x="105.0" y="772.7" font-family="Liberation Sans" font-style="italic" font-size="9.2" fill="#222">Can</text>
<rect x="125.6" y="765.4" width="7.5" height="7.5" fill="#e88abf"/>
<text x="135.6" y="772.7" font-family="Liberation Sans" font-style="italic" font-size="9.2" fill="#222">Csi</text>
<rect x="155.3" y="765.4" width="7.5" height="7.5" fill="#24918a"/>
<text x="165.3" y="772.7" font-family="Liberation Sans" font-style="italic" font-size="9.2" fill="#222">Emo</text>
<rect x="188.7" y="765.4" width="7.5" height="7.5" fill="#5fbf9c"/>
<text x="198.7" y="772.7" font-family="Liberation Sans" font-style="italic" font-size="9.2" fill="#222">Hsa</text>
<rect x="217.2" y="765.4" width="7.5" height="7.5" fill="#f58a64"/>
<text x="227.2" y="772.7" font-family="Liberation Sans" font-style="italic" font-size="9.2" fill="#222">Hlu</text>
<rect x="245.0" y="765.4" width="7.5" height="7.5" fill="#8fcc5c"/>
<text x="255.0" y="772.7" font-family="Liberation Sans" font-style="italic" font-size="9.2" fill="#222">Ppe</text>
<rect x="274.8" y="765.4" width="7.5" height="7.5" fill="#f2c445"/>
<text x="284.8" y="772.7" font-family="Liberation Sans" font-style="italic" font-size="9.2" fill="#222">Pco</text>
<rect x="304.1" y="765.4" width="7.5" height="7.5" fill="#d9b088"/>
<text x="314.1" y="772.7" font-family="Liberation Sans" font-style="italic" font-size="9.2" fill="#222">Rru</text>
<rect x="38.7" y="779.3" width="7.5" height="7.5" fill="#d0642c"/>
<text x="48.7" y="786.6" font-family="Liberation Sans" font-style="italic" font-size="9.2" fill="#222">Umi</text>
<rect x="66.7" y="779.3" width="7.5" height="7.5" fill="#6c6cb4"/>
<text x="76.7" y="786.6" font-family="Liberation Sans" font-style="italic" font-size="9.2" fill="#222">Udi</text>
<rect x="95.0" y="779.3" width="7.5" height="7.5" fill="#d8348a"/>
<text x="105.0" y="786.6" font-family="Liberation Sans" font-style="italic" font-size="9.2" fill="#222">Zju</text>
<rect x="125.6" y="779.3" width="7.5" height="7.5" fill="#8aa0d4"/>
<text x="135.6" y="786.6" font-family="Liberation Sans" font-style="italic" font-size="9.2" fill="#222">Mdo</text>
<rect x="155.3" y="779.3" width="7.5" height="7.5" fill="#d888c4"/>
<text x="165.3" y="786.6" font-family="Liberation Sans" font-style="italic" font-size="9.2" fill="#222">Mno</text>
<rect x="188.7" y="779.3" width="7.5" height="7.5" fill="#2a8ca0"/>
<text x="198.7" y="786.6" font-family="Liberation Sans" font-style="italic" font-size="9.2" fill="#222">Ach</text>
<rect x="217.2" y="779.3" width="7.5" height="7.5" fill="#2878b8"/>
<text x="227.2" y="786.6" font-family="Liberation Sans" font-style="italic" font-size="9.2" fill="#222">Vvi</text>
<rect x="245.0" y="779.3" width="7.5" height="7.5" fill="#e02828"/>
<text x="255.0" y="786.6" font-family="Liberation Sans" font-style="italic" font-size="9.2" fill="#222">Phe</text>
<rect x="274.8" y="779.3" width="7.5" height="7.5" fill="#2a9a70"/>
<text x="284.8" y="786.6" font-family="Liberation Sans" font-style="italic" font-size="9.2" fill="#222">Sth</text>
<rect x="304.1" y="779.3" width="7.5" height="7.5" fill="#1e3a3c"/>
<text x="314.1" y="786.6" font-family="Liberation Sans" font-style="italic" font-size="9.2" fill="#222">Rst</text>
<text x="395.0" y="358.2" font-family="Liberation Serif" font-size="21.5" fill="#111">F</text>
<path d="M534.6,388.9 C534.6,406.4 518.2,406.4 518.2,424.0" fill="none" stroke="#8e8e8e" stroke-width="0.6" opacity="1.0"/>
<path d="M535.5,388.9 C535.5,406.4 519.4,406.4 519.4,424.0" fill="none" stroke="#8e8e8e" stroke-width="0.6" opacity="1.0"/>
<path d="M536.6,388.9 C536.6,406.4 520.5,406.4 520.5,424.0" fill="none" stroke="#8e8e8e" stroke-width="0.6" opacity="1.0"/>
<path d="M547.0,388.9 C547.0,406.4 528.0,406.4 528.0,424.0" fill="none" stroke="#8e8e8e" stroke-width="0.6" opacity="1.0"/>
<path d="M550.0,388.9 C550.0,406.4 545.0,406.4 545.0,424.0" fill="none" stroke="#c4c4c4" stroke-width="0.4" opacity="1.0"/>
<path d="M553.6,388.9 C553.6,406.4 564.8,406.4 564.8,424.0" fill="none" stroke="#8e8e8e" stroke-width="0.8" opacity="1.0"/>
<path d="M555.2,388.9 C555.2,406.4 567.6,406.4 567.6,424.0" fill="none" stroke="#8e8e8e" stroke-width="0.8" opacity="1.0"/>
<path d="M556.6,388.9 C556.6,406.4 570.6,406.4 570.6,424.0" fill="none" stroke="#8e8e8e" stroke-width="0.9" opacity="1.0"/>
<path d="M557.6,388.9 C557.6,406.4 573.0,406.4 573.0,424.0" fill="none" stroke="#8e8e8e" stroke-width="0.8" opacity="1.0"/>
<path d="M518.2,424.0 C518.2,441.2 474.6,441.2 474.6,458.5" fill="none" stroke="#c4c4c4" stroke-width="0.5" opacity="1.0"/>
<path d="M545.5,424.0 C545.5,441.2 529.5,441.2 529.5,458.5" fill="none" stroke="#c4c4c4" stroke-width="0.5" opacity="1.0"/>
<path d="M565.0,424.0 C565.0,441.2 586.8,441.2 586.8,458.5" fill="none" stroke="#a0a0a0" stroke-width="0.8" opacity="1.0"/>
<path d="M569.0,424.0 C569.0,441.2 588.0,441.2 588.0,458.5" fill="none" stroke="#a0a0a0" stroke-width="0.9" opacity="1.0"/>
<path d="M573.5,424.0 C573.5,441.2 589.6,441.2 589.6,458.5" fill="none" stroke="#a0a0a0" stroke-width="0.8" opacity="1.0"/>
<path d="M474.6,458.5 C474.6,476.1 408.9,476.1 408.9,493.7" fill="none" stroke="#c4c4c4" stroke-width="0.5" opacity="1.0"/>
<path d="M529.5,458.5 C529.5,476.1 497.0,476.1 497.0,493.7" fill="none" stroke="#c4c4c4" stroke-width="0.5" opacity="1.0"/>
<path d="M531.5,458.5 C531.5,476.1 502.7,476.1 502.7,493.7" fill="none" stroke="#c4c4c4" stroke-width="0.5" opacity="1.0"/>
<path d="M587.0,458.5 C587.0,476.1 609.4,476.1 609.4,493.7" fill="none" stroke="#a0a0a0" stroke-width="0.9" opacity="1.0"/>
<path d="M588.5,458.5 C588.5,476.1 611.0,476.1 611.0,493.7" fill="none" stroke="#a0a0a0" stroke-width="1.0" opacity="1.0"/>
<path d="M590.5,458.5 C590.5,476.1 682.3,476.1 682.3,493.7" fill="none" stroke="#c4c4c4" stroke-width="0.5" opacity="1.0"/>
<path d="M548.3,424.0 C548.3,458.9 525.5,458.9 525.5,493.7" fill="none" stroke="#c4c4c4" stroke-width="0.5" opacity="1.0"/>
<path d="M576.0,424.0 C576.0,458.9 682.3,458.9 682.3,493.7" fill="none" stroke="#c4c4c4" stroke-width="0.5" opacity="1.0"/>
<path d="M408.9,493.7 C408.9,510.8 521.5,510.8 521.5,527.9" fill="none" stroke="#c4c4c4" stroke-width="0.5" opacity="1.0"/>
<path d="M497.0,493.7 C497.0,510.8 543.9,510.8 543.9,527.9" fill="none" stroke="#9a9a9a" stroke-width="0.55" opacity="1.0"/>
<path d="M502.7,493.7 C502.7,510.8 545.4,510.8 545.4,527.9" fill="none" stroke="#9a9a9a" stroke-width="0.55" opacity="1.0"/>
<path d="M509.7,493.7 C509.7,510.8 547.4,510.8 547.4,527.9" fill="none" stroke="#9a9a9a" stroke-width="0.55" opacity="1.0"/>
<path d="M512.2,493.7 C512.2,510.8 549.0,510.8 549.0,527.9" fill="none" stroke="#9a9a9a" stroke-width="0.55" opacity="1.0"/>
<path d="M517.5,493.7 C517.5,510.8 550.7,510.8 550.7,527.9" fill="none" stroke="#9a9a9a" stroke-width="0.55" opacity="1.0"/>
<path d="M522.4,493.7 C522.4,510.8 552.1,510.8 552.1,527.9" fill="none" stroke="#9a9a9a" stroke-width="0.55" opacity="1.0"/>
<path d="M525.5,493.7 C525.5,510.8 555.2,510.8 555.2,527.9" fill="none" stroke="#9a9a9a" stroke-width="0.55" opacity="1.0"/>
<path d="M535.9,493.7 C535.9,510.8 556.5,510.8 556.5,527.9" fill="none" stroke="#9a9a9a" stroke-width="0.55" opacity="1.0"/>
<path d="M537.6,493.7 C537.6,510.8 558.2,510.8 558.2,527.9" fill="none" stroke="#9a9a9a" stroke-width="0.55" opacity="1.0"/>
<path d="M570.7,493.7 C570.7,510.8 555.9,510.8 555.9,527.9" fill="none" stroke="#c4c4c4" stroke-width="0.5" opacity="1.0"/>
<path d="M623.6,493.7 C623.6,510.8 559.0,510.8 559.0,527.9" fill="none" stroke="#c4c4c4" stroke-width="0.5" opacity="1.0"/>
<path d="M682.3,493.7 C682.3,510.8 567.4,510.8 567.4,527.9" fill="none" stroke="#a8a8a8" stroke-width="0.6" opacity="1.0"/>
<path d="M524.5,527.9 C524.5,545.4 467.5,545.4 467.5,562.9" fill="none" stroke="#c4c4c4" stroke-width="0.5" opacity="1.0"/>
<path d="M538.8,527.9 C538.8,545.4 491.7,545.4 491.7,562.9" fill="none" stroke="#a2a2a2" stroke-width="0.55" opacity="1.0"/>
<path d="M540.5,527.9 C540.5,545.4 498.3,545.4 498.3,562.9" fill="none" stroke="#a2a2a2" stroke-width="0.55" opacity="1.0"/>
<path d="M543.9,527.9 C543.9,545.4 511.6,545.4 511.6,562.9" fill="none" stroke="#a2a2a2" stroke-width="0.55" opacity="1.0"/>
<path d="M545.4,527.9 C545.4,545.4 522.0,545.4 522.0,562.9" fill="none" stroke="#a2a2a2" stroke-width="0.55" opacity="1.0"/>
<path d="M547.4,527.9 C547.4,545.4 529.6,545.4 529.6,562.9" fill="none" stroke="#a2a2a2" stroke-width="0.55" opacity="1.0"/>
<path d="M566.5,527.9 C566.5,545.4 603.8,545.4 603.8,562.9" fill="none" stroke="#c4c4c4" stroke-width="0.5" opacity="1.0"/>
<path d="M567.4,527.9 C567.4,545.4 609.9,545.4 609.9,562.9" fill="none" stroke="#c4c4c4" stroke-width="0.5" opacity="1.0"/>
<path d="M568.0,527.9 C568.0,545.4 619.6,545.4 619.6,562.9" fill="none" stroke="#a2a2a2" stroke-width="0.7" opacity="1.0"/>
<path d="M568.5,527.9 C568.5,545.4 620.6,545.4 620.6,562.9" fill="none" stroke="#a2a2a2" stroke-width="0.7" opacity="1.0"/>
<path d="M467.5,562.9 C467.5,580.2 438.5,580.2 438.5,597.5" fill="none" stroke="#c4c4c4" stroke-width="0.5" opacity="1.0"/>
<path d="M491.7,562.9 C491.7,580.2 551.5,580.2 551.5,597.5" fill="none" stroke="#8e8e8e" stroke-width="0.55" opacity="1.0"/>
<path d="M498.3,562.9 C498.3,580.2 552.5,580.2 552.5,597.5" fill="none" stroke="#8e8e8e" stroke-width="0.55" opacity="1.0"/>
<path d="M511.6,562.9 C511.6,580.2 553.5,580.2 553.5,597.5" fill="none" stroke="#8e8e8e" stroke-width="0.55" opacity="1.0"/>
<path d="M522.0,562.9 C522.0,580.2 554.3,580.2 554.3,597.5" fill="none" stroke="#8e8e8e" stroke-width="0.55" opacity="1.0"/>
<path d="M530.0,562.9 C530.0,580.2 557.2,580.2 557.2,597.5" fill="none" stroke="#8e8e8e" stroke-width="0.55" opacity="1.0"/>
<path d="M606.3,562.9 C606.3,580.2 565.8,580.2 565.8,597.5" fill="none" stroke="#8e8e8e" stroke-width="0.55" opacity="1.0"/>
<path d="M611.4,562.9 C611.4,580.2 567.3,580.2 567.3,597.5" fill="none" stroke="#8e8e8e" stroke-width="0.55" opacity="1.0"/>
<path d="M619.6,562.9 C619.6,580.2 570.7,580.2 570.7,597.5" fill="none" stroke="#8e8e8e" stroke-width="0.8" opacity="1.0"/>
<path d="M620.6,562.9 C620.6,580.2 653.5,580.2 653.5,597.5" fill="none" stroke="#c4c4c4" stroke-width="0.5" opacity="1.0"/>
<path d="M438.5,597.5 C438.5,615.0 496.7,615.0 496.7,632.5" fill="none" stroke="#c4c4c4" stroke-width="0.5" opacity="1.0"/>
<path d="M460.4,597.5 C460.4,615.0 501.2,615.0 501.2,632.5" fill="none" stroke="#c4c4c4" stroke-width="0.5" opacity="1.0"/>
<path d="M463.2,597.5 C463.2,615.0 515.7,615.0 515.7,632.5" fill="none" stroke="#c4c4c4" stroke-width="0.5" opacity="1.0"/>
<path d="M503.1,597.5 C503.1,615.0 529.3,615.0 529.3,632.5" fill="none" stroke="#8e8e8e" stroke-width="0.55" opacity="1.0"/>
<path d="M532.5,597.5 C532.5,615.0 531.0,615.0 531.0,632.5" fill="none" stroke="#8e8e8e" stroke-width="0.55" opacity="1.0"/>
<path d="M534.0,597.5 C534.0,615.0 532.6,615.0 532.6,632.5" fill="none" stroke="#8e8e8e" stroke-width="0.55" opacity="1.0"/>
<path d="M542.0,597.5 C542.0,615.0 535.8,615.0 535.8,632.5" fill="none" stroke="#8e8e8e" stroke-width="0.55" opacity="1.0"/>
<path d="M547.7,597.5 C547.7,615.0 538.2,615.0 538.2,632.5" fill="none" stroke="#8e8e8e" stroke-width="0.55" opacity="1.0"/>
<path d="M549.6,597.5 C549.6,615.0 539.8,615.0 539.8,632.5" fill="none" stroke="#8e8e8e" stroke-width="0.55" opacity="1.0"/>
<path d="M551.5,597.5 C551.5,615.0 543.0,615.0 543.0,632.5" fill="none" stroke="#8e8e8e" stroke-width="0.55" opacity="1.0"/>
<path d="M553.0,597.5 C553.0,615.0 545.0,615.0 545.0,632.5" fill="none" stroke="#8e8e8e" stroke-width="0.55" opacity="1.0"/>
<path d="M554.3,597.5 C554.3,615.0 547.0,615.0 547.0,632.5" fill="none" stroke="#8e8e8e" stroke-width="0.55" opacity="1.0"/>
<path d="M563.8,597.5 C563.8,615.0 554.2,615.0 554.2,632.5" fill="none" stroke="#8e8e8e" stroke-width="0.55" opacity="1.0"/>
<path d="M565.8,597.5 C565.8,615.0 561.5,615.0 561.5,632.5" fill="none" stroke="#8e8e8e" stroke-width="0.55" opacity="1.0"/>
<path d="M567.3,597.5 C567.3,615.0 570.3,615.0 570.3,632.5" fill="none" stroke="#8e8e8e" stroke-width="0.55" opacity="1.0"/>
<path d="M570.7,597.5 C570.7,615.0 575.1,615.0 575.1,632.5" fill="none" stroke="#8e8e8e" stroke-width="0.55" opacity="1.0"/>
<path d="M609.1,597.5 C609.1,615.0 579.9,615.0 579.9,632.5" fill="none" stroke="#8e8e8e" stroke-width="0.55" opacity="1.0"/>
<path d="M652.5,597.5 C652.5,615.0 588.4,615.0 588.4,632.5" fill="none" stroke="#8e8e8e" stroke-width="0.55" opacity="1.0"/>
<path d="M653.5,597.5 C653.5,615.0 595.2,615.0 595.2,632.5" fill="none" stroke="#c4c4c4" stroke-width="0.5" opacity="1.0"/>
<path d="M496.7,632.5 C496.7,650.0 529.3,650.0 529.3,667.5" fill="none" stroke="#8e8e8e" stroke-width="0.55" opacity="1.0"/>
<path d="M501.2,632.5 C501.2,650.0 530.2,650.0 530.2,667.5" fill="none" stroke="#8e8e8e" stroke-width="0.55" opacity="1.0"/>
<path d="M515.7,632.5 C515.7,650.0 531.0,650.0 531.0,667.5" fill="none" stroke="#8e8e8e" stroke-width="0.55" opacity="1.0"/>
<path d="M529.3,632.5 C529.3,650.0 532.1,650.0 532.1,667.5" fill="none" stroke="#8e8e8e" stroke-width="0.55" opacity="1.0"/>
<path d="M531.0,632.5 C531.0,650.0 535.8,650.0 535.8,667.5" fill="none" stroke="#8e8e8e" stroke-width="0.55" opacity="1.0"/>
<path d="M532.6,632.5 C532.6,650.0 536.5,650.0 536.5,667.5" fill="none" stroke="#8e8e8e" stroke-width="0.55" opacity="1.0"/>
<path d="M535.8,632.5 C535.8,650.0 537.3,650.0 537.3,667.5" fill="none" stroke="#8e8e8e" stroke-width="0.55" opacity="1.0"/>
<path d="M538.2,632.5 C538.2,650.0 538.1,650.0 538.1,667.5" fill="none" stroke="#8e8e8e" stroke-width="0.55" opacity="1.0"/>
<path d="M539.8,632.5 C539.8,650.0 539.0,650.0 539.0,667.5" fill="none" stroke="#8e8e8e" stroke-width="0.55" opacity="1.0"/>
<path d="M543.0,632.5 C543.0,650.0 539.8,650.0 539.8,667.5" fill="none" stroke="#8e8e8e" stroke-width="0.55" opacity="1.0"/>
<path d="M545.0,632.5 C545.0,650.0 540.5,650.0 540.5,667.5" fill="none" stroke="#8e8e8e" stroke-width="0.55" opacity="1.0"/>
<path d="M547.0,632.5 C547.0,650.0 541.2,650.0 541.2,667.5" fill="none" stroke="#8e8e8e" stroke-width="0.55" opacity="1.0"/>
<path d="M552.6,632.5 C552.6,650.0 551.8,650.0 551.8,667.5" fill="none" stroke="#8e8e8e" stroke-width="0.55" opacity="1.0"/>
<path d="M554.2,632.5 C554.2,650.0 552.6,650.0 552.6,667.5" fill="none" stroke="#8e8e8e" stroke-width="0.55" opacity="1.0"/>
<path d="M561.5,632.5 C561.5,650.0 553.4,650.0 553.4,667.5" fill="none" stroke="#8e8e8e" stroke-width="0.55" opacity="1.0"/>
<path d="M563.9,632.5 C563.9,650.0 554.2,650.0 554.2,667.5" fill="none" stroke="#8e8e8e" stroke-width="0.55" opacity="1.0"/>
<path d="M570.3,632.5 C570.3,650.0 555.0,650.0 555.0,667.5" fill="none" stroke="#8e8e8e" stroke-width="0.55" opacity="1.0"/>
<path d="M572.7,632.5 C572.7,650.0 556.0,650.0 556.0,667.5" fill="none" stroke="#8e8e8e" stroke-width="0.55" opacity="1.0"/>
<path d="M575.1,632.5 C575.1,650.0 556.6,650.0 556.6,667.5" fill="none" stroke="#8e8e8e" stroke-width="0.55" opacity="1.0"/>
<path d="M577.0,632.5 C577.0,650.0 558.3,650.0 558.3,667.5" fill="none" stroke="#8e8e8e" stroke-width="0.55" opacity="1.0"/>
<path d="M579.0,632.5 C579.0,650.0 560.7,650.0 560.7,667.5" fill="none" stroke="#8e8e8e" stroke-width="0.55" opacity="1.0"/>
<path d="M586.4,632.5 C586.4,650.0 563.1,650.0 563.1,667.5" fill="none" stroke="#8e8e8e" stroke-width="0.55" opacity="1.0"/>
<path d="M595.2,632.5 C595.2,650.0 563.8,650.0 563.8,667.5" fill="none" stroke="#8e8e8e" stroke-width="0.55" opacity="1.0"/>
<path d="M529.3,667.5 C529.3,684.9 525.9,684.9 525.9,702.3" fill="none" stroke="#858585" stroke-width="0.65" opacity="1.0"/>
<path d="M530.2,667.5 C530.2,684.9 527.7,684.9 527.7,702.3" fill="none" stroke="#858585" stroke-width="0.65" opacity="1.0"/>
<path d="M531.0,667.5 C531.0,684.9 528.5,684.9 528.5,702.3" fill="none" stroke="#858585" stroke-width="0.65" opacity="1.0"/>
<path d="M532.0,667.5 C532.0,684.9 529.4,684.9 529.4,702.3" fill="none" stroke="#858585" stroke-width="0.65" opacity="1.0"/>
<path d="M536.0,667.5 C536.0,684.9 531.2,684.9 531.2,702.3" fill="none" stroke="#858585" stroke-width="0.65" opacity="1.0"/>
<path d="M537.0,667.5 C537.0,684.9 532.0,684.9 532.0,702.3" fill="none" stroke="#858585" stroke-width="0.65" opacity="1.0"/>
<path d="M538.0,667.5 C538.0,684.9 533.0,684.9 533.0,702.3" fill="none" stroke="#858585" stroke-width="0.65" opacity="1.0"/>
<path d="M539.0,667.5 C539.0,684.9 534.0,684.9 534.0,702.3" fill="none" stroke="#858585" stroke-width="0.65" opacity="1.0"/>
<path d="M540.0,667.5 C540.0,684.9 534.3,684.9 534.3,702.3" fill="none" stroke="#858585" stroke-width="0.65" opacity="1.0"/>
<path d="M541.0,667.5 C541.0,684.9 535.0,684.9 535.0,702.3" fill="none" stroke="#858585" stroke-width="0.65" opacity="1.0"/>
<path d="M551.8,667.5 C551.8,684.9 548.7,684.9 548.7,702.3" fill="none" stroke="#858585" stroke-width="0.65" opacity="1.0"/>
<path d="M552.6,667.5 C552.6,684.9 549.5,684.9 549.5,702.3" fill="none" stroke="#858585" stroke-width="0.65" opacity="1.0"/>
<path d="M554.0,667.5 C554.0,684.9 550.5,684.9 550.5,702.3" fill="none" stroke="#858585" stroke-width="0.65" opacity="1.0"/>
<path d="M555.0,667.5 C555.0,684.9 551.4,684.9 551.4,702.3" fill="none" stroke="#858585" stroke-width="0.65" opacity="1.0"/>
<path d="M556.6,667.5 C556.6,684.9 552.2,684.9 552.2,702.3" fill="none" stroke="#858585" stroke-width="0.65" opacity="1.0"/>
<path d="M558.3,667.5 C558.3,684.9 554.8,684.9 554.8,702.3" fill="none" stroke="#858585" stroke-width="0.65" opacity="1.0"/>
<path d="M560.7,667.5 C560.7,684.9 557.4,684.9 557.4,702.3" fill="none" stroke="#858585" stroke-width="0.65" opacity="1.0"/>
<path d="M563.1,667.5 C563.1,684.9 561.0,684.9 561.0,702.3" fill="none" stroke="#858585" stroke-width="0.65" opacity="1.0"/>
<path d="M525.9,702.3 C525.9,719.6 517.2,719.6 517.2,737.0" fill="none" stroke="#7e7e7e" stroke-width="0.7" opacity="1.0"/>
<path d="M527.7,702.3 C527.7,719.6 521.5,719.6 521.5,737.0" fill="none" stroke="#7e7e7e" stroke-width="0.7" opacity="1.0"/>
<path d="M529.4,702.3 C529.4,719.6 525.0,719.6 525.0,737.0" fill="none" stroke="#7e7e7e" stroke-width="0.7" opacity="1.0"/>
<path d="M531.2,702.3 C531.2,719.6 527.7,719.6 527.7,737.0" fill="none" stroke="#7e7e7e" stroke-width="0.7" opacity="1.0"/>
<path d="M532.0,702.3 C532.0,719.6 529.4,719.6 529.4,737.0" fill="none" stroke="#7e7e7e" stroke-width="0.7" opacity="1.0"/>
<path d="M533.0,702.3 C533.0,719.6 530.5,719.6 530.5,737.0" fill="none" stroke="#7e7e7e" stroke-width="0.7" opacity="1.0"/>
<path d="M534.0,702.3 C534.0,719.6 531.5,719.6 531.5,737.0" fill="none" stroke="#7e7e7e" stroke-width="0.7" opacity="1.0"/>
<path d="M534.3,702.3 C534.3,719.6 532.9,719.6 532.9,737.0" fill="none" stroke="#7e7e7e" stroke-width="0.7" opacity="1.0"/>
<path d="M535.0,702.3 C535.0,719.6 533.5,719.6 533.5,737.0" fill="none" stroke="#7e7e7e" stroke-width="0.7" opacity="1.0"/>
<path d="M532.5,702.3 C532.5,719.6 530.0,719.6 530.0,737.0" fill="none" stroke="#a8a8a8" stroke-width="1.6" opacity="1.0"/>
<path d="M533.5,702.3 C533.5,719.6 532.0,719.6 532.0,737.0" fill="none" stroke="#a8a8a8" stroke-width="1.6" opacity="1.0"/>
<path d="M540.0,702.3 C540.0,719.6 551.3,719.6 551.3,737.0" fill="none" stroke="#c4c4c4" stroke-width="0.5" opacity="1.0"/>
<path d="M548.7,702.3 C548.7,719.6 569.7,719.6 569.7,737.0" fill="none" stroke="#7e7e7e" stroke-width="0.9" opacity="1.0"/>
<path d="M549.5,702.3 C549.5,719.6 570.5,719.6 570.5,737.0" fill="none" stroke="#7e7e7e" stroke-width="0.9" opacity="1.0"/>
<path d="M550.5,702.3 C550.5,719.6 571.3,719.6 571.3,737.0" fill="none" stroke="#7e7e7e" stroke-width="0.9" opacity="1.0"/>
<path d="M552.2,702.3 C552.2,719.6 572.2,719.6 572.2,737.0" fill="none" stroke="#7e7e7e" stroke-width="0.9" opacity="1.0"/>
<path d="M554.8,702.3 C554.8,719.6 573.2,719.6 573.2,737.0" fill="none" stroke="#7e7e7e" stroke-width="0.9" opacity="1.0"/>
<path d="M550.0,702.3 C550.0,719.6 570.9,719.6 570.9,737.0" fill="none" stroke="#a8a8a8" stroke-width="1.8" opacity="1.0"/>
<path d="M552.0,702.3 C552.0,719.6 572.0,719.6 572.0,737.0" fill="none" stroke="#a8a8a8" stroke-width="1.6" opacity="1.0"/>
<path d="M561.0,702.3 C561.0,719.6 576.7,719.6 576.7,737.0" fill="none" stroke="#7e7e7e" stroke-width="0.5" opacity="1.0"/>
<path d="M567.1,702.3 C567.1,719.6 561.0,719.6 561.0,737.0" fill="none" stroke="#c4c4c4" stroke-width="0.5" opacity="1.0"/>
<path d="M517.2,737.0 C517.2,749.9 496.1,749.9 496.1,762.7" fill="none" stroke="#858585" stroke-width="0.65" opacity="1.0"/>
<path d="M519.0,737.0 C519.0,749.9 498.8,749.9 498.8,762.7" fill="none" stroke="#858585" stroke-width="0.65" opacity="1.0"/>
<path d="M521.5,737.0 C521.5,749.9 502.3,749.9 502.3,762.7" fill="none" stroke="#858585" stroke-width="0.65" opacity="1.0"/>
<path d="M523.5,737.0 C523.5,749.9 504.0,749.9 504.0,762.7" fill="none" stroke="#858585" stroke-width="0.65" opacity="1.0"/>
<path d="M525.0,737.0 C525.0,749.9 505.8,749.9 505.8,762.7" fill="none" stroke="#858585" stroke-width="0.65" opacity="1.0"/>
<path d="M527.7,737.0 C527.7,749.9 508.0,749.9 508.0,762.7" fill="none" stroke="#858585" stroke-width="0.65" opacity="1.0"/>
<path d="M529.4,737.0 C529.4,749.9 510.1,749.9 510.1,762.7" fill="none" stroke="#858585" stroke-width="0.65" opacity="1.0"/>
<path d="M530.5,737.0 C530.5,749.9 511.0,749.9 511.0,762.7" fill="none" stroke="#858585" stroke-width="0.65" opacity="1.0"/>
<path d="M531.5,737.0 C531.5,749.9 512.0,749.9 512.0,762.7" fill="none" stroke="#858585" stroke-width="0.65" opacity="1.0"/>
<path d="M532.9,737.0 C532.9,749.9 513.1,749.9 513.1,762.7" fill="none" stroke="#858585" stroke-width="0.65" opacity="1.0"/>
<path d="M530.5,737.0 C530.5,749.9 500.0,749.9 500.0,762.7" fill="none" stroke="#b0b0b0" stroke-width="0.6" opacity="1.0"/>
<path d="M532.0,737.0 C532.0,749.9 506.0,749.9 506.0,762.7" fill="none" stroke="#b0b0b0" stroke-width="0.6" opacity="1.0"/>
<path d="M534.7,737.0 C534.7,749.9 519.8,749.9 519.8,762.7" fill="none" stroke="#858585" stroke-width="0.65" opacity="1.0"/>
<path d="M536.4,737.0 C536.4,749.9 525.9,749.9 525.9,762.7" fill="none" stroke="#858585" stroke-width="0.65" opacity="1.0"/>
<path d="M539.0,737.0 C539.0,749.9 530.6,749.9 530.6,762.7" fill="none" stroke="#858585" stroke-width="0.65" opacity="1.0"/>
<path d="M551.3,737.0 C551.3,749.9 555.7,749.9 555.7,762.7" fill="none" stroke="#c4c4c4" stroke-width="0.5" opacity="1.0"/>
<path d="M557.4,737.0 C557.4,749.9 562.7,749.9 562.7,762.7" fill="none" stroke="#858585" stroke-width="0.5" opacity="1.0"/>
<path d="M569.7,737.0 C569.7,749.9 582.9,749.9 582.9,762.7" fill="none" stroke="#858585" stroke-width="0.65" opacity="1.0"/>
<path d="M570.5,737.0 C570.5,749.9 585.5,749.9 585.5,762.7" fill="none" stroke="#858585" stroke-width="0.65" opacity="1.0"/>
<path d="M571.3,737.0 C571.3,749.9 588.1,749.9 588.1,762.7" fill="none" stroke="#858585" stroke-width="0.65" opacity="1.0"/>
<path d="M572.2,737.0 C572.2,749.9 590.7,749.9 590.7,762.7" fill="none" stroke="#858585" stroke-width="0.65" opacity="1.0"/>
<path d="M573.2,737.0 C573.2,749.9 593.4,749.9 593.4,762.7" fill="none" stroke="#858585" stroke-width="0.65" opacity="1.0"/>
<path d="M576.7,737.0 C576.7,749.9 596.0,749.9 596.0,762.7" fill="none" stroke="#858585" stroke-width="0.65" opacity="1.0"/>
<path d="M570.2,737.0 C570.2,749.9 580.2,749.9 580.2,762.7" fill="none" stroke="#858585" stroke-width="0.65" opacity="1.0"/>
<path d="M572.8,737.0 C572.8,749.9 578.5,749.9 578.5,762.7" fill="none" stroke="#b0b0b0" stroke-width="0.6" opacity="1.0"/>
<path d="M571.0,737.0 C571.0,749.9 586.5,749.9 586.5,762.7" fill="none" stroke="#b0b0b0" stroke-width="1.5" opacity="1.0"/>
<path d="M541.5,493.7 C541.5,510.8 553.5,510.8 553.5,527.9" fill="none" stroke="#b52a78" stroke-width="0.7" opacity="1.0"/>
<path d="M553.5,527.9 C553.5,545.4 535.8,545.4 535.8,562.9" fill="none" stroke="#b52a78" stroke-width="0.7" opacity="1.0"/>
<path d="M535.8,562.9 C535.8,580.2 559.0,580.2 559.0,597.5" fill="none" stroke="#b52a78" stroke-width="0.7" opacity="1.0"/>
<path d="M559.0,597.5 C559.0,615.0 550.2,615.0 550.2,632.5" fill="none" stroke="#b52a78" stroke-width="0.7" opacity="1.0"/>
<path d="M550.2,632.5 C550.2,650.0 543.0,650.0 543.0,667.5" fill="none" stroke="#b52a78" stroke-width="0.7" opacity="1.0"/>
<path d="M543.0,667.5 C543.0,684.9 535.6,684.9 535.6,702.3" fill="none" stroke="#b52a78" stroke-width="0.7" opacity="1.0"/>
<path d="M535.6,702.3 C535.6,719.6 546.1,719.6 546.1,737.0" fill="none" stroke="#b52a78" stroke-width="0.7" opacity="1.0"/>
<path d="M546.1,737.0 C546.1,749.9 541.0,749.9 541.0,762.7" fill="none" stroke="#b52a78" stroke-width="0.7" opacity="1.0"/>
<rect x="534.15" y="383.90" width="0.90" height="10.00" fill="#48ab66" opacity="0.88"/>
<rect x="535.55" y="383.90" width="0.90" height="10.00" fill="#48ab66" opacity="0.88"/>
<rect x="537.25" y="383.90" width="0.90" height="10.00" fill="#48ab66" opacity="0.88"/>
<rect x="544.80" y="383.90" width="6.20" height="10.00" fill="#48ab66" opacity="0.88"/>
<rect x="553.00" y="383.90" width="4.70" height="10.00" fill="#48ab66" opacity="0.88"/>
<line x1="533.0" y1="388.9" x2="560.1" y2="388.9" stroke="#4f3b33" stroke-width="2.0"/>
<rect x="517.75" y="418.50" width="0.90" height="11.00" fill="#48ab66" opacity="0.88"/>
<rect x="519.85" y="418.50" width="0.90" height="11.00" fill="#48ab66" opacity="0.88"/>
<rect x="525.00" y="418.50" width="8.60" height="11.00" fill="#48ab66" opacity="0.88"/>
<rect x="534.60" y="418.50" width="8.20" height="11.00" fill="#48ab66" opacity="0.88"/>
<rect x="543.75" y="418.50" width="0.90" height="11.00" fill="#48ab66" opacity="0.88"/>
<rect x="545.35" y="418.50" width="0.90" height="11.00" fill="#48ab66" opacity="0.88"/>
<rect x="547.85" y="418.50" width="0.90" height="11.00" fill="#48ab66" opacity="0.88"/>
<rect x="550.55" y="418.50" width="0.90" height="11.00" fill="#48ab66" opacity="0.88"/>
<rect x="554.55" y="418.50" width="0.90" height="11.00" fill="#48ab66" opacity="0.88"/>
<rect x="564.20" y="418.50" width="7.20" height="11.00" fill="#48ab66" opacity="0.88"/>
<rect x="572.95" y="418.50" width="0.90" height="11.00" fill="#48ab66" opacity="0.88"/>
<line x1="516.8" y1="424.0" x2="576.1" y2="424.0" stroke="#4f3b33" stroke-width="2.0"/>
<rect x="474.15" y="453.50" width="0.90" height="10.00" fill="#bfe2c8" opacity="1"/>
<rect x="529.05" y="453.50" width="0.90" height="10.00" fill="#48ab66" opacity="0.88"/>
<rect x="531.05" y="453.50" width="0.90" height="10.00" fill="#48ab66" opacity="0.88"/>
<line x1="474.0" y1="458.5" x2="534.0" y2="458.5" stroke="#4f3b33" stroke-width="2.0"/>
<rect x="586.70" y="453.50" width="3.10" height="10.00" fill="#48ab66" opacity="0.88"/>
<line x1="585.7" y1="458.5" x2="591.8" y2="458.5" stroke="#4f3b33" stroke-width="2.0"/>
<rect x="408.45" y="488.50" width="0.90" height="10.40" fill="#bfe2c8" opacity="1"/>
<rect x="418.15" y="488.50" width="0.90" height="10.40" fill="#bfe2c8" opacity="1"/>
<rect x="423.25" y="488.50" width="0.90" height="10.40" fill="#bfe2c8" opacity="1"/>
<rect x="436.35" y="488.50" width="1.30" height="10.40" fill="#48ab66" opacity="0.88"/>
<rect x="453.55" y="488.50" width="0.90" height="10.40" fill="#86c79a" opacity="0.88"/>
<rect x="456.25" y="488.50" width="0.90" height="10.40" fill="#86c79a" opacity="0.88"/>
<rect x="454.95" y="488.50" width="0.90" height="10.40" fill="#bfe2c8" opacity="1"/>
<rect x="471.55" y="488.50" width="0.90" height="10.40" fill="#bfe2c8" opacity="1"/>
<rect x="496.55" y="488.50" width="0.90" height="10.40" fill="#86c79a" opacity="0.88"/>
<rect x="502.25" y="488.50" width="0.90" height="10.40" fill="#bfe2c8" opacity="1"/>
<rect x="509.25" y="488.50" width="0.90" height="10.40" fill="#bfe2c8" opacity="1"/>
<rect x="511.75" y="488.50" width="0.90" height="10.40" fill="#bfe2c8" opacity="1"/>
<rect x="513.85" y="488.50" width="0.90" height="10.40" fill="#bfe2c8" opacity="1"/>
<rect x="516.90" y="488.50" width="1.20" height="10.40" fill="#48ab66" opacity="0.88"/>
<rect x="521.95" y="488.50" width="0.90" height="10.40" fill="#bfe2c8" opacity="1"/>
<rect x="525.05" y="488.50" width="0.90" height="10.40" fill="#bfe2c8" opacity="1"/>
<rect x="526.55" y="488.50" width="0.90" height="10.40" fill="#bfe2c8" opacity="1"/>
<rect x="535.45" y="488.50" width="0.90" height="10.40" fill="#86c79a" opacity="0.88"/>
<rect x="537.15" y="488.50" width="0.90" height="10.40" fill="#86c79a" opacity="0.88"/>
<rect x="540.95" y="488.50" width="0.90" height="10.40" fill="#f07a55" opacity="0.88"/>
<rect x="544.85" y="488.50" width="0.90" height="10.40" fill="#86c79a" opacity="0.88"/>
<rect x="550.15" y="488.50" width="0.90" height="10.40" fill="#86c79a" opacity="0.88"/>
<rect x="554.75" y="488.50" width="0.90" height="10.40" fill="#86c79a" opacity="0.88"/>
<rect x="561.15" y="488.50" width="0.90" height="10.40" fill="#bfe2c8" opacity="1"/>
<rect x="570.25" y="488.50" width="0.90" height="10.40" fill="#86c79a" opacity="0.88"/>
<rect x="571.75" y="488.50" width="0.90" height="10.40" fill="#86c79a" opacity="0.88"/>
<rect x="578.05" y="488.50" width="0.90" height="10.40" fill="#bfe2c8" opacity="1"/>
<rect x="580.85" y="488.50" width="0.90" height="10.40" fill="#bfe2c8" opacity="1"/>
<rect x="595.65" y="488.50" width="0.90" height="10.40" fill="#86c79a" opacity="0.88"/>
<rect x="608.85" y="488.50" width="1.10" height="10.40" fill="#48ab66" opacity="0.88"/>
<rect x="610.35" y="488.50" width="1.10" height="10.40" fill="#48ab66" opacity="0.88"/>
<rect x="611.45" y="488.50" width="1.10" height="10.40" fill="#48ab66" opacity="0.88"/>
<rect x="624.25" y="488.50" width="0.90" height="10.40" fill="#bfe2c8" opacity="1"/>
<rect x="626.35" y="488.50" width="0.90" height="10.40" fill="#bfe2c8" opacity="1"/>
<rect x="632.10" y="488.50" width="1.20" height="10.40" fill="#48ab66" opacity="0.88"/>
<rect x="635.25" y="488.50" width="0.90" height="10.40" fill="#86c79a" opacity="0.88"/>
<rect x="637.95" y="488.50" width="0.90" height="10.40" fill="#86c79a" opacity="0.88"/>
<rect x="641.15" y="488.50" width="0.90" height="10.40" fill="#bfe2c8" opacity="1"/>
<rect x="644.35" y="488.50" width="0.90" height="10.40" fill="#bfe2c8" opacity="1"/>
<rect x="675.05" y="488.50" width="0.90" height="10.40" fill="#86c79a" opacity="0.88"/>
<rect x="681.65" y="488.50" width="1.30" height="10.40" fill="#48ab66" opacity="0.88"/>
<line x1="408.2" y1="493.7" x2="683.0" y2="493.7" stroke="#4f3b33" stroke-width="2.0"/>
<rect x="524.05" y="522.40" width="0.90" height="11.00" fill="#48ab66" opacity="0.88"/>
<rect x="526.15" y="522.40" width="0.90" height="11.00" fill="#48ab66" opacity="0.88"/>
<rect x="527.75" y="522.40" width="0.90" height="11.00" fill="#48ab66" opacity="0.88"/>
<rect x="531.25" y="522.40" width="0.90" height="11.00" fill="#48ab66" opacity="0.88"/>
<rect x="533.25" y="522.40" width="0.90" height="11.00" fill="#48ab66" opacity="0.88"/>
<rect x="538.35" y="522.40" width="0.90" height="11.00" fill="#48ab66" opacity="0.88"/>
<rect x="543.45" y="522.40" width="0.90" height="11.00" fill="#48ab66" opacity="0.88"/>
<rect x="544.95" y="522.40" width="0.90" height="11.00" fill="#48ab66" opacity="0.88"/>
<rect x="546.95" y="522.40" width="0.90" height="11.00" fill="#48ab66" opacity="0.88"/>
<rect x="548.55" y="522.40" width="0.90" height="11.00" fill="#48ab66" opacity="0.88"/>
<rect x="550.25" y="522.40" width="0.90" height="11.00" fill="#48ab66" opacity="0.88"/>
<rect x="551.65" y="522.40" width="0.90" height="11.00" fill="#48ab66" opacity="0.88"/>
<rect x="553.05" y="522.40" width="0.90" height="11.00" fill="#f07a55" opacity="0.88"/>
<rect x="554.75" y="522.40" width="0.90" height="11.00" fill="#48ab66" opacity="0.88"/>
<rect x="557.75" y="522.40" width="0.90" height="11.00" fill="#48ab66" opacity="0.88"/>
<rect x="560.45" y="522.40" width="0.90" height="11.00" fill="#48ab66" opacity="0.88"/>
<rect x="566.75" y="522.40" width="1.30" height="11.00" fill="#48ab66" opacity="0.88"/>
<rect x="568.05" y="522.40" width="0.90" height="11.00" fill="#48ab66" opacity="0.88"/>
<line x1="522.9" y1="527.9" x2="569.5" y2="527.9" stroke="#4f3b33" stroke-width="2.0"/>
<rect x="467.05" y="557.70" width="0.90" height="10.40" fill="#bfe2c8" opacity="1"/>
<rect x="483.65" y="557.70" width="0.90" height="10.40" fill="#bfe2c8" opacity="1"/>
<rect x="491.25" y="557.70" width="0.90" height="10.40" fill="#48ab66" opacity="0.88"/>
<rect x="497.85" y="557.70" width="0.90" height="10.40" fill="#48ab66" opacity="0.88"/>
<rect x="511.15" y="557.70" width="0.90" height="10.40" fill="#48ab66" opacity="0.88"/>
<rect x="522.00" y="557.70" width="2.90" height="10.40" fill="#48ab66" opacity="0.88"/>
<rect x="529.60" y="557.70" width="3.30" height="10.40" fill="#48ab66" opacity="0.88"/>
<rect x="535.35" y="557.70" width="0.90" height="10.40" fill="#f07a55" opacity="0.88"/>
<rect x="553.85" y="557.70" width="0.90" height="10.40" fill="#48ab66" opacity="0.88"/>
<rect x="558.85" y="557.70" width="0.90" height="10.40" fill="#48ab66" opacity="0.88"/>
<rect x="560.45" y="557.70" width="0.90" height="10.40" fill="#48ab66" opacity="0.88"/>
<rect x="570.05" y="557.70" width="0.90" height="10.40" fill="#bfe2c8" opacity="1"/>
<rect x="581.25" y="557.70" width="0.90" height="10.40" fill="#48ab66" opacity="0.88"/>
<rect x="587.45" y="557.70" width="0.90" height="10.40" fill="#48ab66" opacity="0.88"/>
<rect x="592.55" y="557.70" width="0.90" height="10.40" fill="#48ab66" opacity="0.88"/>
<rect x="603.35" y="557.70" width="0.90" height="10.40" fill="#48ab66" opacity="0.88"/>
<rect x="605.85" y="557.70" width="0.90" height="10.40" fill="#48ab66" opacity="0.88"/>
<rect x="610.95" y="557.70" width="0.90" height="10.40" fill="#48ab66" opacity="0.88"/>
<rect x="618.95" y="557.70" width="1.30" height="10.40" fill="#48ab66" opacity="0.88"/>
<rect x="620.15" y="557.70" width="0.90" height="10.40" fill="#48ab66" opacity="0.88"/>
<line x1="467.0" y1="562.9" x2="626.5" y2="562.9" stroke="#4f3b33" stroke-width="2.0"/>
<rect x="438.05" y="592.30" width="0.90" height="10.40" fill="#bfe2c8" opacity="1"/>
<rect x="455.15" y="592.30" width="0.90" height="10.40" fill="#bfe2c8" opacity="1"/>
<rect x="459.95" y="592.30" width="0.90" height="10.40" fill="#48ab66" opacity="0.88"/>
<rect x="461.45" y="592.30" width="0.90" height="10.40" fill="#48ab66" opacity="0.88"/>
<rect x="462.75" y="592.30" width="0.90" height="10.40" fill="#48ab66" opacity="0.88"/>
<rect x="465.55" y="592.30" width="0.90" height="10.40" fill="#48ab66" opacity="0.88"/>
<rect x="473.25" y="592.30" width="0.90" height="10.40" fill="#bfe2c8" opacity="1"/>
<rect x="502.65" y="592.30" width="0.90" height="10.40" fill="#48ab66" opacity="0.88"/>
<rect x="532.05" y="592.30" width="0.90" height="10.40" fill="#48ab66" opacity="0.88"/>
<rect x="533.55" y="592.30" width="0.90" height="10.40" fill="#48ab66" opacity="0.88"/>
<rect x="541.55" y="592.30" width="0.90" height="10.40" fill="#48ab66" opacity="0.88"/>
<rect x="547.25" y="592.30" width="0.90" height="10.40" fill="#48ab66" opacity="0.88"/>
<rect x="549.15" y="592.30" width="0.90" height="10.40" fill="#48ab66" opacity="0.88"/>
<rect x="551.50" y="592.30" width="2.80" height="10.40" fill="#48ab66" opacity="0.88"/>
<rect x="556.75" y="592.30" width="0.90" height="10.40" fill="#f07a55" opacity="0.88"/>
<rect x="557.90" y="592.30" width="5.90" height="10.40" fill="#bfe2c8" opacity="1"/>
<rect x="558.55" y="592.30" width="0.90" height="10.40" fill="#f07a55" opacity="0.88"/>
<rect x="565.35" y="592.30" width="0.90" height="10.40" fill="#48ab66" opacity="0.88"/>
<rect x="566.85" y="592.30" width="0.90" height="10.40" fill="#48ab66" opacity="0.88"/>
<rect x="570.25" y="592.30" width="0.90" height="10.40" fill="#48ab66" opacity="0.88"/>
<rect x="608.65" y="592.30" width="0.90" height="10.40" fill="#48ab66" opacity="0.88"/>
<rect x="611.05" y="592.30" width="0.90" height="10.40" fill="#48ab66" opacity="0.88"/>
<rect x="615.55" y="592.30" width="0.90" height="10.40" fill="#48ab66" opacity="0.88"/>
<rect x="617.55" y="592.30" width="0.90" height="10.40" fill="#48ab66" opacity="0.88"/>
<rect x="625.45" y="592.30" width="0.90" height="10.40" fill="#bfe2c8" opacity="1"/>
<rect x="633.35" y="592.30" width="0.90" height="10.40" fill="#48ab66" opacity="0.88"/>
<rect x="638.25" y="592.30" width="0.90" height="10.40" fill="#48ab66" opacity="0.88"/>
<rect x="642.15" y="592.30" width="0.90" height="10.40" fill="#48ab66" opacity="0.88"/>
<rect x="651.85" y="592.30" width="1.30" height="10.40" fill="#48ab66" opacity="0.88"/>
<rect x="653.05" y="592.30" width="0.90" height="10.40" fill="#48ab66" opacity="0.88"/>
<line x1="438.0" y1="597.5" x2="654.5" y2="597.5" stroke="#4f3b33" stroke-width="2.0"/>
<rect x="496.25" y="627.30" width="0.90" height="10.40" fill="#48ab66" opacity="0.88"/>
<rect x="500.75" y="627.30" width="0.90" height="10.40" fill="#48ab66" opacity="0.88"/>
<rect x="515.25" y="627.30" width="0.90" height="10.40" fill="#48ab66" opacity="0.88"/>
<rect x="528.85" y="627.30" width="0.90" height="10.40" fill="#48ab66" opacity="0.88"/>
<rect x="530.55" y="627.30" width="0.90" height="10.40" fill="#48ab66" opacity="0.88"/>
<rect x="532.15" y="627.30" width="0.90" height="10.40" fill="#48ab66" opacity="0.88"/>
<rect x="535.35" y="627.30" width="0.90" height="10.40" fill="#48ab66" opacity="0.88"/>
<rect x="537.75" y="627.30" width="0.90" height="10.40" fill="#48ab66" opacity="0.88"/>
<rect x="539.35" y="627.30" width="0.90" height="10.40" fill="#48ab66" opacity="0.88"/>
<rect x="543.00" y="627.30" width="6.40" height="10.40" fill="#48ab66" opacity="0.88"/>
<rect x="549.75" y="627.30" width="0.90" height="10.40" fill="#f07a55" opacity="0.88"/>
<rect x="552.15" y="627.30" width="0.90" height="10.40" fill="#48ab66" opacity="0.88"/>
<rect x="553.75" y="627.30" width="0.90" height="10.40" fill="#48ab66" opacity="0.88"/>
<rect x="561.05" y="627.30" width="0.90" height="10.40" fill="#48ab66" opacity="0.88"/>
<rect x="563.45" y="627.30" width="0.90" height="10.40" fill="#48ab66" opacity="0.88"/>
<rect x="570.30" y="627.30" width="2.40" height="10.40" fill="#48ab66" opacity="0.88"/>
<rect x="575.10" y="627.30" width="4.80" height="10.40" fill="#48ab66" opacity="0.88"/>
<rect x="586.40" y="627.30" width="1.90" height="10.40" fill="#48ab66" opacity="0.88"/>
<rect x="594.75" y="627.30" width="0.90" height="10.40" fill="#48ab66" opacity="0.88"/>
<line x1="495.6" y1="632.5" x2="596.3" y2="632.5" stroke="#4f3b33" stroke-width="2.0"/>
<rect x="529.30" y="662.10" width="2.80" height="10.80" fill="#48ab66" opacity="0.88"/>
<rect x="535.80" y="662.10" width="5.60" height="10.80" fill="#48ab66" opacity="0.88"/>
<rect x="541.70" y="662.10" width="2.60" height="10.80" fill="#f07a55" opacity="0.88"/>
<rect x="546.55" y="662.10" width="0.90" height="10.80" fill="#bfe2c8" opacity="1"/>
<rect x="551.80" y="662.10" width="4.80" height="10.80" fill="#48ab66" opacity="0.88"/>
<rect x="557.85" y="662.10" width="0.90" height="10.80" fill="#48ab66" opacity="0.88"/>
<rect x="560.25" y="662.10" width="0.90" height="10.80" fill="#48ab66" opacity="0.88"/>
<rect x="562.65" y="662.10" width="0.90" height="10.80" fill="#48ab66" opacity="0.88"/>
<line x1="529.3" y1="667.5" x2="564.7" y2="667.5" stroke="#4f3b33" stroke-width="2.0"/>
<rect x="525.45" y="697.00" width="0.90" height="10.60" fill="#48ab66" opacity="0.88"/>
<rect x="527.25" y="697.00" width="0.90" height="10.60" fill="#48ab66" opacity="0.88"/>
<rect x="528.95" y="697.00" width="0.90" height="10.60" fill="#48ab66" opacity="0.88"/>
<rect x="531.20" y="697.00" width="2.90" height="10.60" fill="#48ab66" opacity="0.88"/>
<rect x="534.30" y="697.00" width="2.70" height="10.60" fill="#f07a55" opacity="0.88"/>
<rect x="539.55" y="697.00" width="0.90" height="10.60" fill="#48ab66" opacity="0.88"/>
<rect x="541.75" y="697.00" width="0.90" height="10.60" fill="#48ab66" opacity="0.88"/>
<rect x="544.75" y="697.00" width="0.90" height="10.60" fill="#48ab66" opacity="0.88"/>
<rect x="548.70" y="697.00" width="3.50" height="10.60" fill="#48ab66" opacity="0.88"/>
<rect x="554.35" y="697.00" width="0.90" height="10.60" fill="#48ab66" opacity="0.88"/>
<rect x="556.95" y="697.00" width="0.90" height="10.60" fill="#48ab66" opacity="0.88"/>
<rect x="560.55" y="697.00" width="0.90" height="10.60" fill="#48ab66" opacity="0.88"/>
<rect x="563.15" y="697.00" width="0.90" height="10.60" fill="#48ab66" opacity="0.88"/>
<rect x="566.65" y="697.00" width="0.90" height="10.60" fill="#48ab66" opacity="0.88"/>
<line x1="523.3" y1="702.3" x2="569.7" y2="702.3" stroke="#4f3b33" stroke-width="2.0"/>
<rect x="516.75" y="731.60" width="0.90" height="10.80" fill="#48ab66" opacity="0.88"/>
<rect x="521.05" y="731.60" width="0.90" height="10.80" fill="#48ab66" opacity="0.88"/>
<rect x="524.55" y="731.60" width="0.90" height="10.80" fill="#48ab66" opacity="0.88"/>
<rect x="527.25" y="731.60" width="0.90" height="10.80" fill="#48ab66" opacity="0.88"/>
<rect x="529.40" y="731.60" width="3.50" height="10.80" fill="#48ab66" opacity="0.88"/>
<rect x="534.25" y="731.60" width="0.90" height="10.80" fill="#f07a55" opacity="0.88"/>
<rect x="535.95" y="731.60" width="0.90" height="10.80" fill="#48ab66" opacity="0.88"/>
<rect x="538.55" y="731.60" width="0.90" height="10.80" fill="#48ab66" opacity="0.88"/>
<rect x="545.65" y="731.60" width="0.90" height="10.80" fill="#f07a55" opacity="0.88"/>
<rect x="550.85" y="731.60" width="0.90" height="10.80" fill="#48ab66" opacity="0.88"/>
<rect x="555.20" y="731.60" width="2.20" height="10.80" fill="#48ab66" opacity="0.88"/>
<rect x="560.55" y="731.60" width="0.90" height="10.80" fill="#48ab66" opacity="0.88"/>
<rect x="563.15" y="731.60" width="0.90" height="10.80" fill="#48ab66" opacity="0.88"/>
<rect x="566.65" y="731.60" width="0.90" height="10.80" fill="#48ab66" opacity="0.88"/>
<rect x="569.70" y="731.60" width="3.50" height="10.80" fill="#48ab66" opacity="0.88"/>
<rect x="576.25" y="731.60" width="0.90" height="10.80" fill="#48ab66" opacity="0.88"/>
<line x1="513.7" y1="737.0" x2="578.5" y2="737.0" stroke="#4f3b33" stroke-width="2.0"/>
<rect x="495.65" y="757.40" width="0.90" height="10.60" fill="#48ab66" opacity="0.88"/>
<rect x="498.35" y="757.40" width="0.90" height="10.60" fill="#48ab66" opacity="0.88"/>
<rect x="501.85" y="757.40" width="0.90" height="10.60" fill="#48ab66" opacity="0.88"/>
<rect x="505.35" y="757.40" width="0.90" height="10.60" fill="#48ab66" opacity="0.88"/>
<rect x="510.10" y="757.40" width="3.00" height="10.60" fill="#48ab66" opacity="0.88"/>
<rect x="519.35" y="757.40" width="0.90" height="10.60" fill="#f07a55" opacity="0.88"/>
<rect x="520.75" y="757.40" width="0.90" height="10.60" fill="#f07a55" opacity="0.88"/>
<rect x="525.45" y="757.40" width="0.90" height="10.60" fill="#f07a55" opacity="0.88"/>
<rect x="528.05" y="757.40" width="0.90" height="10.60" fill="#f07a55" opacity="0.88"/>
<rect x="530.60" y="757.40" width="2.30" height="10.60" fill="#f07a55" opacity="0.88"/>
<rect x="539.90" y="757.40" width="2.70" height="10.60" fill="#f07a55" opacity="0.88"/>
<rect x="545.65" y="757.40" width="0.90" height="10.60" fill="#48ab66" opacity="0.88"/>
<rect x="549.95" y="757.40" width="0.90" height="10.60" fill="#48ab66" opacity="0.88"/>
<rect x="550.85" y="757.40" width="0.90" height="10.60" fill="#48ab66" opacity="0.88"/>
<rect x="555.25" y="757.40" width="0.90" height="10.60" fill="#48ab66" opacity="0.88"/>
<rect x="562.25" y="757.40" width="0.90" height="10.60" fill="#48ab66" opacity="0.88"/>
<rect x="570.15" y="757.40" width="0.90" height="10.60" fill="#bfe2c8" opacity="1"/>
<rect x="578.05" y="757.40" width="0.90" height="10.60" fill="#48ab66" opacity="0.88"/>
<rect x="579.75" y="757.40" width="0.90" height="10.60" fill="#48ab66" opacity="0.88"/>
<rect x="582.45" y="757.40" width="0.90" height="10.60" fill="#48ab66" opacity="0.88"/>
<rect x="585.05" y="757.40" width="0.90" height="10.60" fill="#48ab66" opacity="0.88"/>
<rect x="587.65" y="757.40" width="0.90" height="10.60" fill="#48ab66" opacity="0.88"/>
<rect x="590.25" y="757.40" width="0.90" height="10.60" fill="#48ab66" opacity="0.88"/>
<rect x="592.95" y="757.40" width="0.90" height="10.60" fill="#48ab66" opacity="0.88"/>
<rect x="595.55" y="757.40" width="0.90" height="10.60" fill="#48ab66" opacity="0.88"/>
<line x1="494.4" y1="762.7" x2="598.6" y2="762.7" stroke="#4f3b33" stroke-width="2.0"/>
<text x="454.76" y="383.20" font-family="Liberation Sans" font-size="9.2" font-style="italic" fill="#222" textLength="76.12" lengthAdjust="spacingAndGlyphs">Actinidia chinensis</text>
<text x="461.73" y="393.70" font-family="Liberation Sans" font-size="9.2" fill="#222" textLength="55.35" lengthAdjust="spacingAndGlyphs">7.10-7.24 Mb</text>
<text x="451.19" y="417.80" font-family="Liberation Sans" font-size="9.2" font-style="italic" fill="#222" textLength="60.29" lengthAdjust="spacingAndGlyphs">Citrus sinensis</text>
<text x="447.93" y="428.80" font-family="Liberation Sans" font-size="9.2" fill="#222" textLength="65.54" lengthAdjust="spacingAndGlyphs">20.92-21.22 Mb</text>
<text x="388.92" y="444.20" font-family="Liberation Sans" font-size="9.2" font-style="italic" fill="#222" textLength="85.08" lengthAdjust="spacingAndGlyphs">Hippophae salicifolia</text>
<text x="399.35" y="465.50" font-family="Liberation Sans" font-size="9.2" fill="#222" textLength="65.32" lengthAdjust="spacingAndGlyphs">38.73-39.03 Mb</text>
<text x="591.22" y="443.20" font-family="Liberation Sans" font-size="9.2" font-style="italic" fill="#222" textLength="85.08" lengthAdjust="spacingAndGlyphs">Hippophae salicifolia</text>
<text x="614.63" y="464.50" font-family="Liberation Sans" font-size="9.2" fill="#222" textLength="55.15" lengthAdjust="spacingAndGlyphs">5.17-5.20 Mb</text>
<text x="375.39" y="515.00" font-family="Liberation Sans" font-size="9.2" font-style="italic" fill="#222" textLength="65.91" lengthAdjust="spacingAndGlyphs">Cannabis sativa</text>
<text x="374.14" y="525.50" font-family="Liberation Sans" font-size="9.2" fill="#222" textLength="64.83" lengthAdjust="spacingAndGlyphs">20.04-21.50 Mb</text>
<text x="446.52" y="528.20" font-family="Liberation Sans" font-size="9.2" font-style="italic" fill="#222" textLength="69.28" lengthAdjust="spacingAndGlyphs">Malus domestica</text>
<text x="448.54" y="537.20" font-family="Liberation Sans" font-size="9.2" fill="#222" textLength="65.14" lengthAdjust="spacingAndGlyphs">29.79-29.55 Mb</text>
<text x="403.40" y="558.70" font-family="Liberation Sans" font-size="9.2" font-style="italic" fill="#222" textLength="52.67" lengthAdjust="spacingAndGlyphs">Ulmus minor</text>
<text x="397.24" y="568.30" font-family="Liberation Sans" font-size="9.2" fill="#222" textLength="65.04" lengthAdjust="spacingAndGlyphs">24.07-24.91 Mb</text>
<text x="378.50" y="596.00" font-family="Liberation Sans" font-size="9.2" font-style="italic" fill="#222" textLength="51.63" lengthAdjust="spacingAndGlyphs">Urtica dioica</text>
<text x="371.94" y="605.20" font-family="Liberation Sans" font-size="9.2" fill="#222" textLength="67.45" lengthAdjust="spacingAndGlyphs">35.54-36.68 Mb</text>
<text x="428.62" y="632.80" font-family="Liberation Sans" font-size="9.2" font-style="italic" fill="#222" textLength="62.06" lengthAdjust="spacingAndGlyphs">Morus notabilis</text>
<text x="428.69" y="642.90" font-family="Liberation Sans" font-size="9.2" fill="#222" textLength="64.88" lengthAdjust="spacingAndGlyphs">40.53-41.06 Mb</text>
<text x="465.05" y="664.80" font-family="Liberation Sans" font-size="9.2" font-style="italic" fill="#222" textLength="59.75" lengthAdjust="spacingAndGlyphs">Sageretia thea</text>
<text x="460.43" y="674.50" font-family="Liberation Sans" font-size="9.2" fill="#222" textLength="65.64" lengthAdjust="spacingAndGlyphs">21.00-21.18 Mb</text>
<text x="432.82" y="697.80" font-family="Liberation Sans" font-size="9.2" font-style="italic" fill="#222" textLength="90.15" lengthAdjust="spacingAndGlyphs">Rhamnella rubrinervis</text>
<text x="454.03" y="708.60" font-family="Liberation Sans" font-size="9.2" fill="#222" textLength="55.35" lengthAdjust="spacingAndGlyphs">6.71-6.94 Mb</text>
<text x="422.62" y="732.80" font-family="Liberation Sans" font-size="9.2" font-style="italic" fill="#222" textLength="90.97" lengthAdjust="spacingAndGlyphs">Paliurus hemsleyanus</text>
<text x="431.83" y="743.60" font-family="Liberation Sans" font-size="9.2" fill="#222" textLength="65.95" lengthAdjust="spacingAndGlyphs">28.27-28.61 Mb</text>
<text x="426.59" y="759.70" font-family="Liberation Sans" font-size="9.2" font-style="italic" fill="#222" textLength="63.22" lengthAdjust="spacingAndGlyphs">Ziziphus jujuba</text>
<text x="424.95" y="768.50" font-family="Liberation Sans" font-size="9.2" fill="#222" textLength="64.92" lengthAdjust="spacingAndGlyphs">34.65-35.18 Mb</text>
<text x="418.53" y="455.20" font-family="Liberation Sans" font-size="9.2" fill="#222" textLength="25.86" lengthAdjust="spacingAndGlyphs">Chr07</text>
<text x="619.94" y="454.70" font-family="Liberation Sans" font-size="9.2" fill="#222" textLength="25.23" lengthAdjust="spacingAndGlyphs">Chr04</text>
</svg>
</body></html>
